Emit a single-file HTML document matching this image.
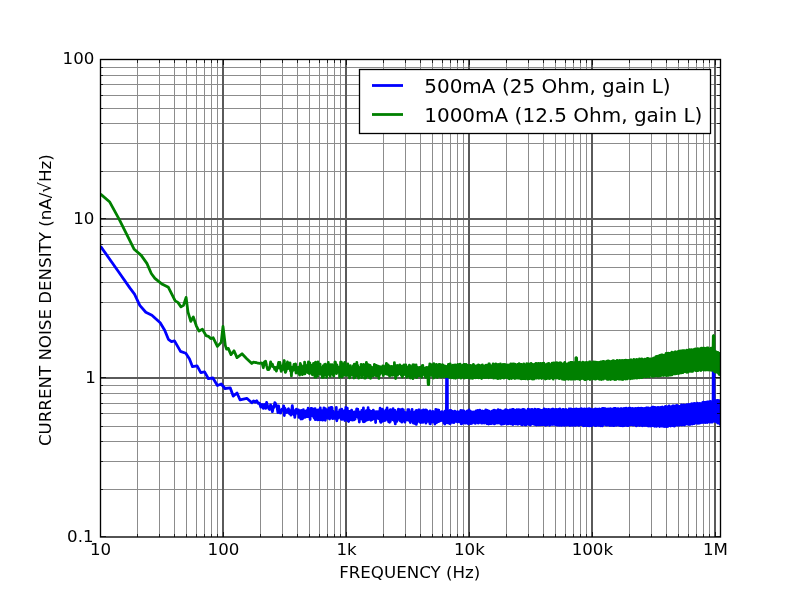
<!DOCTYPE html>
<html lang="en"><head><meta charset="utf-8"><title>Current noise density</title>
<style>html,body{margin:0;padding:0;background:#fff;}body{width:800px;height:597px;overflow:hidden;}svg{display:block;}text{font-family:"DejaVu Sans","Liberation Sans",sans-serif;fill:#000;}</style>
</head><body>
<svg width="800" height="597" viewBox="0 0 800 597">
<rect x="0" y="0" width="800" height="597" fill="#ffffff"/>
<defs><clipPath id="ax"><rect x="100.5" y="59.7" width="620.0" height="477.54"/></clipPath></defs>
<path d="M137.5 59.7V537.24M159.5 59.7V537.24M174.5 59.7V537.24M186.5 59.7V537.24M196.5 59.7V537.24M204.5 59.7V537.24M211.5 59.7V537.24M217.5 59.7V537.24M260.5 59.7V537.24M282.5 59.7V537.24M297.5 59.7V537.24M309.5 59.7V537.24M319.5 59.7V537.24M327.5 59.7V537.24M334.5 59.7V537.24M340.5 59.7V537.24M383.5 59.7V537.24M405.5 59.7V537.24M420.5 59.7V537.24M432.5 59.7V537.24M442.5 59.7V537.24M450.5 59.7V537.24M457.5 59.7V537.24M463.5 59.7V537.24M506.5 59.7V537.24M528.5 59.7V537.24M543.5 59.7V537.24M555.5 59.7V537.24M565.5 59.7V537.24M573.5 59.7V537.24M580.5 59.7V537.24M586.5 59.7V537.24M629.5 59.7V537.24M651.5 59.7V537.24M666.5 59.7V537.24M678.5 59.7V537.24M688.5 59.7V537.24M696.5 59.7V537.24M703.5 59.7V537.24M709.5 59.7V537.24M100.0 489.5H720.0M100.0 461.5H720.0M100.0 441.5H720.0M100.0 426.5H720.0M100.0 413.5H720.0M100.0 403.5H720.0M100.0 393.5H720.0M100.0 385.5H720.0M100.0 330.5H720.0M100.0 302.5H720.0M100.0 282.5H720.0M100.0 267.5H720.0M100.0 254.5H720.0M100.0 244.5H720.0M100.0 234.5H720.0M100.0 226.5H720.0M100.0 171.5H720.0M100.0 143.5H720.0M100.0 123.5H720.0M100.0 108.5H720.0M100.0 95.5H720.0M100.0 84.5H720.0M100.0 75.5H720.0M100.0 67.5H720.0" stroke="#8c8c8c" stroke-width="1" fill="none" shape-rendering="crispEdges"/>
<path d="M223 59.7V537.24M346 59.7V537.24M469 59.7V537.24M592 59.7V537.24M715 59.7V537.24M100.0 378H720.0M100.0 219H720.0" stroke="#5a5a5a" stroke-width="2" fill="none" shape-rendering="crispEdges"/>
<g clip-path="url(#ax)" fill="none" stroke-linejoin="round" stroke-linecap="butt">
<path d="M100.6 246.3L118.0 271.0L130.0 288.1L134.5 294.1L139.8 305.4L145.8 312.2L151.9 315.2L160.2 322.8L164.7 330.3L168.4 339.3L171.5 341.6L174.5 340.9L180.5 351.4L185.8 353.3L189.5 359.1L192.5 366.7L197.1 365.9L200.8 372.7L204.6 371.9L208.4 378.7L212.9 378.0L217.4 385.5L221.2 384.0L225.0 388.5L230.2 387.8L233.2 396.1L237.0 393.0L240.0 399.8L246.8 398.3L251.8 402.8L253.5 400.9L255.1 402.2L256.7 400.7L258.1 403.3L259.5 403.1L260.8 407.1L262.1 404.4L263.3 408.3L264.4 404.5L265.6 408.4L266.6 402.5L267.7 406.3L268.7 408.5L269.6 409.4L270.6 404.9L271.5 406.3L272.4 411.7L273.2 407.2L274.0 407.3L274.8 402.7L275.6 403.7L276.4 405.7L277.1 407.4L277.9 412.5L278.6 405.9L279.3 411.3L279.9 412.8L280.6 413.0L281.2 410.8L281.9 409.2L282.5 409.4L283.1 410.1L283.7 405.8L284.3 415.5L284.8 408.2L285.4 409.4L285.9 410.3L286.5 412.5L287.0 411.7L287.5 411.5L288.0 409.6L288.5 408.8L289.0 412.9L289.5 413.5L290.0 412.1L290.5 411.4L290.9 415.1L291.4 409.9L291.8 410.1L292.3 405.7L292.7 408.4L293.1 412.6L293.6 414.1L294.0 415.1L294.4 412.1L294.8 417.4L295.2 413.5L295.6 410.2L296.0 412.9L296.4 409.1L296.7 411.1L297.1 411.1L297.5 413.3L297.8 412.1L298.2 412.4L298.6 409.9L298.9 417.4L299.3 413.1L299.6 414.1L299.9 417.4L300.3 414.5L300.6 411.9L300.9 419.0L301.3 410.4L301.6 411.4L301.9 413.9L302.2 414.3L302.5 418.8L302.8 412.8L303.1 415.8L303.4 409.7L303.7 417.6L304.0 415.2L304.3 416.4L304.6 411.2L304.9 413.9L305.2 416.4L305.4 417.2L305.7 412.8L306.0 412.8L306.3 416.6L306.5 410.6L306.8 416.4L307.1 414.9L307.3 412.6L307.6 414.3L307.9 416.7L308.1 408.2L308.4 410.3L308.6 416.0L308.9 411.1L309.1 415.4L309.4 413.2L309.6 412.6L309.9 411.4L310.1 419.5L310.3 412.7L310.6 414.3L310.8 413.8L311.0 408.4L311.3 414.8L311.5 413.2L311.7 414.2L311.9 412.0L312.2 408.6L312.4 409.6L312.6 415.7L312.8 410.0L313.0 415.9L313.3 414.2L313.5 412.7L313.7 417.2L313.9 414.4L314.1 418.0L314.3 409.0L314.5 415.9L314.7 410.5L314.9 414.7L315.1 408.6L315.3 419.7L315.5 410.4L315.7 417.3L315.9 412.5L316.1 419.3L316.3 416.9L316.5 412.6L316.7 410.4L316.9 415.5L317.1 412.4L317.3 414.6L317.4 410.1L317.6 410.4L317.8 419.9L318.0 413.8L318.2 413.4L318.4 417.7L318.5 409.8L318.7 414.8L318.9 411.7L319.1 410.7L319.2 410.6L319.4 419.6L319.6 418.6L319.8 413.4L319.9 410.4L320.1 413.3L320.3 407.8L320.4 413.4L320.6 419.8L320.8 410.3L320.9 415.2L321.1 415.6L321.3 412.6L321.4 416.6L321.6 415.9L321.8 413.4L321.9 416.0L322.1 415.0L322.3 411.4L322.4 411.0L322.6 420.1L322.8 410.5L322.9 416.3L323.1 410.9L323.3 415.7L323.4 416.0L323.6 413.9L323.8 414.9L323.9 407.9L324.1 419.6L324.3 412.0L324.4 415.7L324.6 415.3L324.8 408.5L324.9 413.4L325.1 409.1L325.3 420.3L325.4 408.6L325.6 412.7L325.8 416.2L325.9 411.5L326.1 416.4L326.3 411.3L326.4 412.8L326.6 417.8L326.8 410.7L326.9 413.7L327.1 412.6L327.3 416.4L327.4 418.1L327.6 415.1L327.8 409.7L327.9 416.3L328.1 411.8L328.3 413.7L328.4 416.7L328.6 416.4L328.8 415.2L328.9 416.5L329.1 408.0L329.3 413.1L329.4 414.7L329.6 419.0L329.8 412.1L329.9 410.9L330.1 417.5L330.3 410.7L330.4 409.8L330.6 416.7L330.8 417.2L330.9 416.9L331.1 407.5L331.3 415.2L331.4 415.2L331.6 414.4L331.8 417.5L331.9 407.4L332.1 408.0L332.3 415.2L332.4 413.8L332.6 418.7L332.8 414.5L332.9 417.6L333.1 411.1L333.3 411.5L333.4 416.1L333.6 412.3L333.8 416.3L333.9 414.7L334.1 416.1L334.3 413.4L334.4 417.6L334.6 418.3L334.8 415.3L334.9 413.7L335.1 413.4L335.3 418.2L335.4 414.7L335.6 418.5L335.8 414.1L335.9 414.4L336.1 413.9L336.3 407.5L336.4 414.6L336.6 411.2L336.8 420.8L336.9 416.8L337.1 417.2L337.3 413.9L337.4 412.2L337.6 414.6L337.8 415.6L337.9 414.3L338.1 413.7L338.3 416.7L338.4 418.2L338.6 414.7L338.8 416.4L338.9 412.3L339.1 411.8L339.3 414.3L339.4 413.7L339.6 416.5L339.8 409.9L339.9 413.8L340.1 413.3L340.3 414.3L340.4 414.2L340.6 415.9L340.8 414.6L340.9 414.5L341.1 414.4L341.3 419.3L341.4 412.6L341.6 418.0L341.8 409.2L341.9 412.2L342.1 413.8L342.3 419.4L342.4 411.1L342.6 410.8L342.8 418.1L342.9 413.9L343.1 419.0L343.3 412.1L343.4 419.0L343.6 415.8L343.8 411.7L343.9 418.5L344.1 417.5L344.3 416.3L344.4 412.9L344.6 411.1L344.8 410.4L344.9 420.5L345.1 416.7L345.3 419.9L345.4 415.1L345.6 414.5L345.8 407.5L345.9 417.7L346.1 417.4L346.3 414.1L346.4 414.1L346.6 413.4L346.8 416.9L346.9 413.2L347.1 412.3L347.3 408.2L347.4 413.7L347.6 414.3L347.8 420.8L347.9 413.4L348.1 413.2L348.3 414.9L348.4 419.0L348.6 421.5L348.8 411.6L348.9 421.0L349.1 418.1L349.3 412.9L349.4 419.7L349.6 417.4L349.8 416.1L349.9 411.4L350.1 414.7L350.3 419.3L350.4 411.2L350.6 413.0L350.8 417.4L350.9 419.5L351.1 413.5L351.3 416.7L351.4 418.3L351.6 410.2L351.8 412.5L351.9 414.5L352.1 418.6L352.3 420.1L352.4 413.0L352.6 417.9L352.8 418.4L352.9 418.6L353.1 418.7L353.3 418.7L353.4 414.4L353.6 414.0L353.8 413.6L353.9 419.9L354.1 416.0L354.3 411.8L354.4 413.8L354.6 413.1L354.8 417.8L354.9 412.3L355.1 419.1L355.3 412.8L355.4 415.5L355.6 413.8L355.8 411.8L355.9 413.7L356.1 414.0L356.3 412.6L356.4 415.2L356.6 409.2L356.8 416.1L356.9 409.0L357.1 412.0L357.3 416.0L357.4 416.7L357.6 415.4L357.8 409.2L357.9 411.8L358.1 411.1L358.3 415.1L358.4 414.0L358.6 418.7L358.8 414.8L358.9 415.8L359.1 412.4L359.3 422.0L359.4 415.2L359.6 418.8L359.8 412.2L359.9 416.9L360.1 414.6L360.3 414.6L360.4 418.7L360.6 412.4L360.8 418.3L360.9 417.9L361.1 415.9L361.3 412.9L361.4 418.0L361.6 419.0L361.8 410.3L361.9 417.3L362.1 415.6L362.3 413.9L362.4 415.5L362.6 415.7L362.8 416.9L362.9 415.6L363.1 415.8L363.3 421.6L363.4 407.9L363.6 416.5L363.8 415.9L363.9 421.8L364.1 415.3L364.3 415.0L364.4 421.6L364.6 415.3L364.8 414.0L364.9 416.2L365.1 416.3L365.3 416.3L365.4 420.9L365.6 414.4L365.8 417.7L365.9 415.5L366.1 418.8L366.3 410.6L366.4 415.3L366.6 414.2L366.8 413.1L366.9 416.6L367.1 411.7L367.3 417.6L367.4 412.1L367.6 419.9L367.8 414.6L367.9 415.1L368.1 407.7L368.3 413.5L368.4 412.0L368.6 417.6L368.8 418.6L368.9 419.4L369.1 410.1L369.3 417.5L369.4 411.9L369.6 419.2L369.8 416.8L369.9 416.8L370.1 413.7L370.3 419.5L370.4 411.2L370.6 419.4L370.8 413.1L370.9 420.3L371.1 412.3L371.3 418.1L371.4 415.8L371.6 411.7L371.8 416.8L371.9 415.7L372.1 417.2L372.3 419.6L372.4 413.3L372.6 417.7L372.8 412.8L372.9 418.1L373.1 413.8L373.3 410.2L373.4 411.3L373.6 418.8L373.8 413.7L373.9 417.1L374.1 412.5L374.3 412.9L374.4 411.9L374.6 415.1L374.8 417.5L374.9 415.2L375.1 412.0L375.3 414.7L375.4 411.9L375.6 422.5L375.8 413.7L375.9 416.2L376.1 413.8L376.3 418.4L376.4 411.6L376.6 417.9L376.8 412.6L376.9 413.4L377.1 416.4L377.3 415.3L377.4 411.8L377.6 415.8L377.8 413.2L377.9 411.6L378.1 417.6L378.3 415.5L378.4 412.4L378.6 418.6L378.8 412.4L378.9 415.8L379.1 413.5L379.3 417.0L379.4 413.9L379.6 414.2L379.8 410.2L379.9 415.1L380.1 408.2L380.3 421.5L380.4 418.7L380.6 417.1L380.8 411.2L380.9 422.4L381.1 414.0L381.3 415.8L381.4 415.7L381.6 421.7L381.8 415.7L381.9 418.0L382.1 416.3L382.3 417.6L382.4 409.1L382.6 414.7L382.8 411.2L382.9 417.6L383.1 410.4L383.3 418.9L383.4 415.5L383.6 420.9L383.8 413.7L383.9 412.9L384.1 419.3L384.3 417.6L384.4 413.9L384.6 416.3L384.8 416.3L384.9 416.6L385.1 414.8L385.3 420.3L385.4 419.4L385.6 419.5L385.8 411.0L385.9 414.8L386.1 409.8L386.3 419.2L386.4 410.2L386.6 416.4L386.8 414.4L386.9 417.1L387.1 407.9L387.3 418.4L387.4 414.5L387.6 417.4L387.8 415.0L387.9 414.0L388.1 416.6L388.3 420.4L388.4 415.0L388.6 421.8L388.8 415.2L388.9 416.4L389.1 413.5L389.3 415.8L389.4 414.4L389.6 422.3L389.8 410.5L389.9 420.2L390.1 412.7L390.3 421.5L390.4 409.6L390.6 418.3L390.8 412.1L390.9 414.3L391.1 412.0L391.3 417.8L391.4 411.9L391.6 419.0L391.8 414.9L391.9 414.4L392.1 409.9L392.3 415.5L392.4 413.7L392.6 417.2L392.8 414.8L392.9 419.8L393.1 408.7L393.3 416.7L393.4 412.6L393.6 417.0L393.8 413.2L393.9 417.6L394.1 415.8L394.3 416.0L394.4 415.4L394.6 421.5L394.8 413.6L394.9 416.5L395.1 410.3L395.3 423.9L395.4 413.8L395.6 415.9L395.8 415.5L395.9 415.4L396.1 414.5L396.3 415.4L396.4 415.2L396.6 416.9L396.8 413.1L396.9 421.4L397.1 411.9L397.3 418.0L397.4 414.0L397.6 418.6L397.8 414.3L397.9 417.6L398.1 416.9L398.3 417.2L398.4 409.2L398.6 416.0L398.8 413.5L398.9 419.4L399.1 410.9L399.3 416.8L399.4 414.9L399.6 417.1L399.8 414.1L399.9 418.3L400.1 409.6L400.3 421.1L400.4 410.8L400.6 414.6L400.8 417.3L400.9 420.0L401.1 410.6L401.3 418.6L401.4 413.0L401.6 413.9L401.8 414.1L401.9 422.2L402.1 411.3L402.3 421.3L402.4 409.2L402.6 417.3L402.8 416.1L402.9 416.7L403.1 413.4L403.3 419.9L403.4 409.9L403.6 420.2L403.8 412.7L403.9 420.5L404.1 413.8L404.3 419.2L404.4 417.0L404.6 420.7L404.8 415.1L404.9 422.2L405.1 412.7L405.3 417.9L405.4 415.9L405.6 417.6L405.8 412.7L405.9 420.2L406.1 416.0L406.3 416.1L406.4 413.4L406.6 419.5L406.8 414.1L406.9 417.5L407.1 412.9L407.3 415.0L407.4 414.6L407.6 418.9L407.8 409.7L407.9 420.0L408.1 410.8L408.3 419.0L408.4 415.0L408.6 417.8L408.8 409.6L408.9 420.4L409.1 414.6L409.3 415.5L409.4 413.5L409.6 420.2L409.8 413.9L409.9 417.9L410.1 412.6L410.3 422.5L410.4 415.1L410.6 415.9L410.8 414.4L410.9 418.9L411.1 412.5L411.3 417.6L411.4 411.7L411.6 420.8L411.8 413.5L411.9 417.7L412.1 409.5L412.3 418.4L412.4 411.5L412.6 418.0L412.8 415.1L412.9 421.0L413.1 414.6L413.3 423.0L413.4 413.5L413.6 417.7L413.8 415.0L413.9 419.1L414.1 412.6L414.3 423.0L414.4 415.6L414.6 419.0L414.8 415.1L414.9 423.6L415.1 415.6L415.3 416.6L415.4 416.4L415.6 419.1L415.8 410.8L415.9 422.2L416.1 412.2L416.3 424.4L416.4 410.3L416.6 418.8L416.8 415.2L416.9 422.8L417.1 412.1L417.3 416.4L417.4 412.6L417.6 419.1L417.8 414.1L417.9 418.8L418.1 415.3L418.3 415.8L418.4 414.6L418.6 419.0L418.8 410.0L418.9 417.5L419.1 409.8L419.3 418.2L419.4 414.1L419.6 421.6L419.8 411.5L419.9 419.4L420.1 416.3L420.3 419.6L420.4 414.0L420.6 422.6L420.8 415.0L420.9 419.1L421.1 410.8L421.3 416.6L421.4 413.8L421.6 421.6L421.8 411.9L421.9 416.8L422.1 416.4L422.3 417.1L422.4 410.5L422.6 418.6L422.8 412.0L422.9 422.4L423.1 414.1L423.3 418.7L423.4 409.9L423.6 420.4L423.8 414.5L423.9 421.0L424.1 414.2L424.3 418.8L424.4 416.9L424.6 421.3L424.8 410.6L424.9 420.6L425.1 410.2L425.3 416.8L425.4 414.6L425.6 419.8L425.8 410.0L425.9 423.2L426.1 413.8L426.3 418.7L426.4 413.6L426.6 419.9L426.8 410.4L426.9 418.3L427.1 411.6L427.3 421.2L427.4 411.5L427.6 421.4L427.8 412.7L427.9 419.2L428.1 414.1L428.3 419.4L428.4 411.7L428.6 417.6L428.8 414.7L428.9 421.3L429.1 414.4L429.3 417.5L429.4 416.1L429.6 420.3L429.8 414.0L429.9 423.7L430.1 410.9L430.3 423.9L430.4 414.3L430.6 417.8L430.8 415.4L430.9 420.1L431.1 412.2L431.3 419.8L431.4 414.4L431.6 419.7L431.8 412.6L431.9 420.9L432.1 411.9L432.3 422.0L432.4 412.4L432.6 418.2L432.8 411.3L432.9 419.2L433.1 412.8L433.3 419.6L433.4 412.0L433.6 418.7L433.8 414.3L433.9 419.0L434.1 414.8L434.3 422.4L434.4 412.8L434.6 419.4L434.8 413.6L434.9 424.0L435.1 413.1L435.3 419.0L435.4 411.5L435.6 420.9L435.8 409.4L435.9 418.2L436.1 413.2L436.3 421.9L436.4 411.3L436.6 422.7L436.8 415.7L436.9 419.3L437.1 415.0L437.3 418.8L437.4 409.8L437.6 420.6L437.8 410.4L437.9 419.7L438.1 411.1L438.3 420.1L438.4 414.1L438.6 421.7L438.8 410.2L438.9 418.4L439.1 412.6L439.3 420.9L439.4 414.3L439.6 419.8L439.8 414.7L439.9 419.0L440.1 414.1L440.3 420.8L440.4 412.3L440.6 419.0L440.8 415.9L440.9 419.6L441.1 412.2L441.3 419.0L441.4 413.8L441.6 419.1L441.8 411.6L441.9 420.6L442.1 415.2L442.3 418.5L442.4 413.4L442.6 420.6L442.8 412.4L442.9 418.4L443.1 414.5L443.3 421.3L443.4 413.3L443.6 419.5L443.8 413.8L443.9 423.2L444.1 413.7L444.3 420.7L444.4 413.5L444.6 420.1L444.8 411.1L444.9 424.0L445.1 413.5L445.3 419.2L445.4 411.9L445.6 419.2L445.8 415.7L445.9 422.7L446.1 413.2L446.3 422.1L446.4 413.3L446.6 372.0L446.8 374.0L446.9 372.0L447.1 374.0L447.3 372.0L447.4 412.3L447.6 422.8L447.8 414.8L447.9 421.1L448.1 413.4L448.3 420.6L448.4 414.4L448.6 419.7L448.8 412.8L448.9 422.9L449.1 414.6L449.3 420.6L449.4 411.4L449.6 423.5L449.8 414.1L449.9 419.0L450.1 410.3L450.3 423.6L450.4 412.9L450.6 418.5L450.8 410.5L450.9 420.2L451.1 410.7L451.3 421.2L451.4 411.3L451.6 419.2L451.8 411.5L451.9 419.5L452.1 413.2L452.3 422.3L452.4 411.3L452.6 419.4L452.8 414.0L452.9 420.3L453.1 412.7L453.3 420.3L453.4 414.4L453.6 419.7L453.8 411.8L453.9 422.7L454.1 415.0L454.3 421.0L454.4 411.7L454.6 418.5L454.8 411.2L454.9 419.1L455.1 412.4L455.3 421.0L455.4 412.3L455.6 420.0L455.8 413.1L455.9 421.1L456.1 413.0L456.3 421.4L456.4 413.0L456.6 420.6L456.8 415.0L456.9 421.3L457.1 412.8L457.3 419.8L457.4 411.6L457.6 422.0L457.8 412.9L457.9 419.6L458.1 412.8L458.3 419.2L458.4 414.3L458.6 420.6L458.8 414.5L458.9 420.6L459.1 412.7L459.3 418.8L459.4 412.2L459.6 419.1L459.8 411.7L459.9 422.1L460.1 412.7L460.3 418.9L460.4 412.7L460.6 420.5L460.8 410.3L460.9 419.5L461.1 411.1L461.3 423.9L461.4 411.7L461.6 422.3L461.8 413.8L461.9 423.7L462.1 412.7L462.3 423.4L462.4 410.6L462.6 419.7L462.8 411.5L462.9 423.1L463.1 414.5L463.3 420.4L463.4 411.6L463.6 419.7L463.8 410.8L463.9 420.2L464.1 411.3L464.3 419.6L464.4 412.6L464.6 423.0L464.8 413.7L464.9 420.2L465.1 412.6L465.3 420.4L465.4 414.6L465.6 419.9L465.8 413.9L465.9 423.2L466.1 411.9L466.3 422.9L466.4 413.8L466.6 422.2L466.8 414.1L466.9 421.2L467.1 412.1L467.3 420.6L467.4 410.9L467.6 421.3L467.8 412.3L467.9 422.8L468.1 414.1L468.3 423.8L468.4 412.1L468.6 420.8L468.8 411.4L468.9 420.3L469.1 409.9L469.3 421.4L469.4 413.0L469.6 422.2L469.8 412.7L469.9 420.0L470.1 411.6L470.3 419.3L470.4 411.2L470.6 420.3L470.8 412.0L470.9 423.7L471.1 412.2L471.3 421.8L471.4 413.1L471.6 419.1L471.8 414.4L471.9 420.0L472.1 412.1L472.3 421.0L472.4 412.4L472.6 423.0L472.8 413.8L472.9 420.3L473.1 411.9L473.3 419.3L473.4 414.6L473.6 420.8L473.8 413.9L473.9 420.8L474.1 413.4L474.3 421.6L474.4 412.1L474.6 420.3L474.8 411.9L474.9 421.3L475.1 413.7L475.3 423.4L475.4 413.2L475.6 420.1L475.8 413.9L475.9 421.9L476.1 410.8L476.3 422.5L476.4 412.7L476.6 420.6L476.8 414.3L476.9 421.9L477.1 412.1L477.3 420.9L477.4 411.8L477.6 421.3L477.8 410.3L477.9 422.3L478.1 413.1L478.3 423.2L478.4 414.0L478.6 421.6L478.8 412.6L478.9 420.6L479.1 413.9L479.3 422.6L479.4 414.2L479.6 421.7L479.8 410.2L479.9 420.3L480.1 413.2L480.3 421.9L480.4 412.2L480.6 422.1L480.8 411.0L480.9 420.5L481.1 412.8L481.3 420.9L481.4 413.9L481.6 423.2L481.8 411.1L481.9 422.4L482.1 414.1L482.3 423.0L482.4 411.2L482.6 421.5L482.8 411.2L482.9 421.5L483.1 413.0L483.3 420.3L483.4 413.0L483.6 420.0L483.8 412.6L483.9 422.6L484.1 411.4L484.3 423.0L484.4 411.3L484.6 421.0L484.8 411.9L484.9 421.5L485.1 411.0L485.3 421.8L485.4 412.8L485.6 422.2L485.8 409.9L485.9 420.8L486.1 410.5L486.3 419.9L486.4 412.8L486.6 420.9L486.8 411.1L486.9 423.7L487.1 411.1L487.3 421.3L487.4 410.5L487.6 421.3L487.8 412.8L487.9 423.5L488.1 411.5L488.3 422.5L488.4 411.4L488.6 424.0L488.8 412.0L488.9 423.2L489.1 411.2L489.3 423.3L489.4 412.1L489.6 422.7L489.8 411.7L489.9 421.3L490.1 412.8L490.3 422.3L490.4 413.3L490.6 423.6L490.8 413.0L490.9 420.3L491.1 413.2L491.3 423.7L491.4 412.3L491.6 420.8L491.8 413.5L491.9 420.4L492.1 411.2L492.3 422.5L492.4 411.1L492.6 422.8L492.8 413.3L492.9 422.3L493.1 412.2L493.3 423.2L493.4 410.6L493.6 423.6L493.8 413.2L493.9 423.5L494.1 410.1L494.3 423.9L494.4 413.0L494.6 421.2L494.8 413.0L494.9 420.5L495.1 410.4L495.3 423.2L495.4 411.3L495.6 423.3L495.8 411.3L495.9 421.5L496.1 413.0L496.3 420.9L496.4 410.8L496.6 421.3L496.8 412.2L496.9 422.0L497.1 413.3L497.3 421.5L497.4 412.3L497.6 423.0L497.8 412.0L497.9 421.7L498.1 409.7L498.3 422.3L498.4 410.3L498.6 422.7L498.8 413.1L498.9 422.0L499.1 411.7L499.3 423.2L499.4 412.0L499.6 423.0L499.8 411.4L499.9 421.5L500.1 410.2L500.3 421.1L500.4 410.4L500.6 421.4L500.8 413.2L500.9 421.5L501.1 410.6L501.3 424.3L501.4 413.1L501.6 422.4L501.8 411.5L501.9 423.4L502.1 412.4L502.3 422.4L502.4 411.9L502.6 423.6L502.8 412.1L502.9 424.1L503.1 412.0L503.3 421.6L503.4 410.8L503.6 422.5L503.8 412.6L503.9 422.9L504.1 412.7L504.3 423.5L504.4 410.7L504.6 423.5L504.8 411.0L504.9 422.1L505.1 411.6L505.3 422.3L505.4 410.0L505.6 421.3L505.8 410.0L505.9 421.1L506.1 412.1L506.3 421.9L506.4 409.9L506.6 422.6L506.8 411.6L506.9 424.0L507.1 412.0L507.3 422.5L507.4 411.1L507.6 423.5L507.8 410.4L507.9 423.1L508.1 411.6L508.3 422.2L508.4 412.2L508.6 423.8L508.8 410.7L508.9 423.5L509.1 412.1L509.3 422.6L509.4 410.3L509.6 423.0L509.8 412.2L509.9 422.7L510.1 409.9L510.3 422.1L510.4 412.0L510.6 422.3L510.8 410.5L510.9 423.9L511.1 412.1L511.3 421.9L511.4 411.8L511.6 422.4L511.8 411.0L511.9 421.9L512.1 411.5L512.3 422.0L512.4 409.4L512.6 423.6L512.8 412.2L512.9 424.5L513.1 412.2L513.3 422.6L513.4 409.3L513.6 423.8L513.8 410.3L513.9 422.8L514.1 411.8L514.3 423.4L514.4 412.1L514.6 422.2L514.8 411.3L514.9 421.7L515.1 411.2L515.3 423.9L515.4 410.4L515.6 423.0L515.8 410.5L515.9 422.9L516.1 411.9L516.3 423.3L516.4 411.1L516.6 423.8L516.8 409.6L516.9 422.9L517.1 410.7L517.3 423.8L517.4 411.1L517.6 422.4L517.8 410.2L517.9 424.3L518.1 410.0L518.3 423.7L518.4 409.7L518.6 423.6L518.8 410.4L518.9 423.0L519.1 411.3L519.3 423.5L519.4 411.9L519.6 423.0L519.8 410.0L519.9 423.8L520.1 410.4L520.3 422.5L520.4 411.0L520.6 423.1L520.8 410.4L520.9 423.0L521.1 410.3L521.3 424.6L521.4 411.6L521.6 423.7L521.8 409.9L521.9 423.0L522.1 410.8L522.3 424.9L522.4 412.0L522.6 423.4L522.8 411.6L522.9 424.1L523.1 409.3L523.3 423.4L523.4 411.8L523.6 423.5L523.8 410.6L523.9 423.9L524.1 410.6L524.3 423.7L524.4 409.7L524.6 423.4L524.8 410.9L524.9 424.8L525.1 411.4L525.3 423.9L525.4 410.9L525.6 424.1L525.8 411.7L525.9 425.0L526.1 411.0L526.3 422.2L526.4 411.2L526.6 423.1L526.8 412.0L526.9 423.2L527.1 410.8L527.3 424.0L527.4 411.0L527.6 422.8L527.8 411.3L527.9 424.1L528.1 409.2L528.3 423.5L528.4 411.3L528.6 424.3L528.8 410.9L528.9 422.7L529.1 411.6L529.3 424.2L529.4 409.7L529.6 423.8L529.8 410.7L529.9 423.6L530.1 411.3L530.3 425.0L530.4 411.0L530.6 423.8L530.8 409.6L530.9 424.4L531.1 410.7L531.3 423.0L531.4 410.4L531.6 422.5L531.8 409.6L531.9 423.1L532.1 409.5L532.3 422.9L532.4 410.9L532.6 422.9L532.8 410.7L532.9 422.7L533.1 411.9L533.3 424.1L533.4 411.1L533.6 422.9L533.8 411.0L533.9 423.5L534.1 410.7L534.3 423.9L534.4 410.1L534.6 423.2L534.8 409.2L534.9 424.6L535.1 411.7L535.3 424.5L535.4 409.3L535.6 424.4L535.8 411.4L535.9 424.5L536.1 410.2L536.3 422.3L536.4 411.8L536.6 425.0L536.8 410.1L536.9 423.0L537.1 411.5L537.3 422.7L537.4 411.2L537.6 424.4L537.8 410.9L537.9 422.7L538.1 409.3L538.3 424.4L538.4 411.3L538.6 424.8L538.8 410.2L538.9 424.4L539.1 410.0L539.3 424.8L539.4 409.7L539.6 424.6L539.8 411.2L539.9 424.2L540.1 410.4L540.3 424.3L540.4 410.6L540.6 424.8L540.8 410.3L540.9 423.1L541.1 411.1L541.3 422.8L541.4 410.5L541.6 422.5L541.8 410.5L541.9 422.8L542.1 410.5L542.3 423.7L542.4 410.3L542.6 424.7L542.8 411.7L542.9 424.7L543.1 410.5L543.3 423.9L543.4 410.0L543.6 424.7L543.8 410.7L543.9 423.5L544.1 409.0L544.3 422.6L544.4 410.1L544.6 424.1L544.8 411.6L544.9 424.0L545.1 409.9L545.3 425.0L545.4 410.8L545.6 425.3L545.8 410.4L545.9 423.7L546.1 409.3L546.3 422.6L546.4 409.8L546.6 424.1L546.8 410.8L546.9 424.8L547.1 410.7L547.3 423.7L547.4 410.3L547.6 424.5L547.8 411.1L547.9 423.6L548.1 410.6L548.3 423.9L548.4 409.5L548.6 423.3L548.8 409.5L548.9 423.6L549.1 410.4L549.3 423.3L549.4 410.4L549.6 425.3L549.8 410.0L549.9 424.6L550.1 410.8L550.3 423.4L550.4 410.8L550.6 424.0L550.8 410.0L550.9 424.6L551.1 411.5L551.3 424.4L551.4 409.3L551.6 424.0L551.8 411.5L551.9 423.4L552.1 411.6L552.3 423.1L552.4 409.1L552.6 424.1L552.8 409.9L552.9 424.6L553.1 409.2L553.3 424.2L553.4 410.0L553.6 424.2L553.8 409.8L553.9 424.1L554.1 409.9L554.3 423.2L554.4 409.9L554.6 423.8L554.8 409.6L554.9 422.9L555.1 411.1L555.3 422.8L555.4 409.6L555.6 425.1L555.8 409.9L555.9 423.6L556.1 409.4L556.3 424.7L556.4 410.2L556.6 423.4L556.8 410.8L556.9 423.8L557.1 410.7L557.3 423.8L557.4 409.9L557.6 425.2L557.8 411.4L557.9 424.1L558.1 411.4L558.3 423.1L558.4 409.5L558.6 424.2L558.8 409.1L558.9 423.9L559.1 411.5L559.3 423.7L559.4 410.1L559.6 425.3L559.8 408.8L559.9 423.9L560.1 410.5L560.3 423.1L560.4 409.9L560.6 423.3L560.8 411.1L560.9 422.8L561.1 411.5L561.3 424.5L561.4 411.1L561.6 425.4L561.8 411.2L561.9 425.0L562.1 411.1L562.3 422.9L562.4 409.7L562.6 423.5L562.8 409.7L562.9 423.3L563.1 411.3L563.3 424.7L563.4 409.7L563.6 425.0L563.8 409.7L563.9 423.1L564.1 409.9L564.3 424.6L564.4 410.3L564.6 425.3L564.8 410.8L564.9 425.4L565.1 409.7L565.3 422.9L565.4 411.4L565.6 424.5L565.8 409.4L565.9 423.1L566.1 410.6L566.3 424.7L566.4 411.0L566.6 425.1L566.8 410.2L566.9 423.1L567.1 410.5L567.3 424.3L567.4 410.3L567.6 424.6L567.8 411.0L567.9 424.9L568.1 410.5L568.3 424.5L568.4 409.9L568.6 424.0L568.8 410.4L568.9 424.9L569.1 408.9L569.3 424.9L569.4 410.0L569.6 423.7L569.8 411.2L569.9 425.5L570.1 409.7L570.3 425.0L570.4 410.5L570.6 424.4L570.8 408.8L570.9 425.0L571.1 409.9L571.3 423.8L571.4 410.3L571.6 425.2L571.8 410.4L571.9 424.6L572.1 409.9L572.3 425.3L572.4 409.4L572.6 423.7L572.8 411.3L572.9 423.7L573.1 410.3L573.3 424.4L573.4 409.4L573.6 425.3L573.8 411.2L573.9 425.1L574.1 409.4L574.3 425.2L574.4 410.0L574.6 423.8L574.8 409.2L574.9 425.0L575.1 409.7L575.3 425.4L575.4 410.5L575.6 423.3L575.8 410.0L575.9 425.0L576.1 410.8L576.3 424.9L576.4 408.9L576.6 423.7L576.8 409.9L576.9 424.7L577.1 410.2L577.3 423.7L577.4 410.6L577.6 424.9L577.8 409.4L577.9 424.2L578.1 411.0L578.3 425.1L578.4 409.4L578.6 423.7L578.8 409.9L578.9 425.4L579.1 409.1L579.3 424.4L579.4 410.1L579.6 424.5L579.8 410.8L579.9 423.7L580.1 410.8L580.3 424.8L580.4 410.4L580.6 424.5L580.8 410.3L580.9 424.4L581.1 410.8L581.3 423.3L581.4 408.6L581.6 424.1L581.8 410.9L581.9 424.7L582.1 409.4L582.3 423.6L582.4 409.8L582.6 424.1L582.8 410.0L582.9 423.3L583.1 411.1L583.3 425.8L583.4 409.1L583.6 424.4L583.8 409.9L583.9 423.9L584.1 409.4L584.3 424.3L584.4 408.8L584.6 425.0L584.8 409.3L584.9 425.7L585.1 410.6L585.3 423.4L585.4 410.7L585.6 423.8L585.8 410.9L585.9 423.4L586.1 409.9L586.3 425.4L586.4 410.1L586.6 425.6L586.8 409.0L586.9 423.5L587.1 409.8L587.3 424.2L587.4 410.8L587.6 425.7L587.8 410.5L587.9 424.6L588.1 409.7L588.3 425.7L588.4 409.6L588.6 424.3L588.8 410.1L588.9 423.8L589.1 408.7L589.3 425.9L589.4 410.6L589.6 423.5L589.8 410.5L589.9 424.2L590.1 409.0L590.3 425.5L590.4 409.2L590.6 423.5L590.8 409.3L590.9 425.0L591.1 409.7L591.3 425.8L591.4 410.9L591.6 423.8L591.8 409.4L591.9 425.7L592.1 409.6L592.3 424.1L592.4 409.8L592.6 425.1L592.8 410.8L592.9 424.2L593.1 410.4L593.3 423.7L593.4 410.0L593.6 423.8L593.8 410.5L593.9 423.8L594.1 409.5L594.3 423.5L594.4 409.4L594.6 423.9L594.8 410.9L594.9 425.6L595.1 410.5L595.3 425.6L595.4 409.0L595.6 425.5L595.8 410.6L595.9 424.4L596.1 410.7L596.3 425.6L596.4 409.1L596.6 424.8L596.8 410.0L596.9 424.2L597.1 409.1L597.3 424.5L597.4 409.6L597.6 423.8L597.8 410.4L597.9 423.6L598.1 409.4L598.3 424.7L598.4 410.6L598.6 425.4L598.8 410.3L598.9 424.4L599.1 410.5L599.3 424.1L599.4 409.0L599.6 424.2L599.8 410.5L599.9 424.5L600.1 410.2L600.3 425.6L600.4 410.6L600.6 425.8L600.8 410.7L600.9 425.5L601.1 409.4L601.3 424.0L601.4 409.8L601.6 424.1L601.8 410.3L601.9 424.0L602.1 410.0L602.3 425.9L602.4 408.4L602.6 425.6L602.8 410.6L602.9 424.2L603.1 408.8L603.3 423.7L603.4 409.3L603.6 424.2L603.8 408.5L603.9 423.6L604.1 409.0L604.3 424.3L604.4 410.5L604.6 423.5L604.8 409.0L604.9 424.6L605.1 410.4L605.3 424.5L605.4 408.7L605.6 424.0L605.8 409.6L605.9 423.9L606.1 410.3L606.3 425.2L606.4 409.2L606.6 424.0L606.8 410.6L606.9 423.8L607.1 409.5L607.3 424.6L607.4 410.1L607.6 424.0L607.8 409.4L607.9 425.0L608.1 409.0L608.3 424.8L608.4 410.3L608.6 423.7L608.8 409.2L608.9 424.4L609.1 409.2L609.3 423.7L609.4 409.0L609.6 424.3L609.8 408.9L609.9 425.5L610.1 409.7L610.3 423.6L610.4 408.6L610.6 424.6L610.8 408.8L610.9 424.2L611.1 410.2L611.3 425.4L611.4 409.9L611.6 424.0L611.8 409.9L611.9 424.8L612.1 410.6L612.3 424.7L612.4 409.7L612.6 424.7L612.8 410.3L612.9 425.1L613.1 408.9L613.3 425.5L613.4 409.9L613.6 425.1L613.8 409.8L613.9 425.2L614.1 410.4L614.3 425.5L614.4 408.4L614.6 424.6L614.8 409.5L614.9 424.7L615.1 409.5L615.3 423.7L615.4 408.4L615.6 424.1L615.8 410.1L615.9 423.9L616.1 410.0L616.3 425.3L616.4 410.5L616.6 423.8L616.8 409.1L616.9 424.1L617.1 410.5L617.3 424.8L617.4 409.4L617.6 424.7L617.8 409.1L617.9 423.9L618.1 408.7L618.3 425.1L618.4 410.4L618.6 423.9L618.8 409.5L618.9 424.7L619.1 409.9L619.3 423.9L619.4 409.7L619.6 424.0L619.8 409.3L619.9 425.5L620.1 410.1L620.3 424.8L620.4 408.9L620.6 424.0L620.8 408.7L620.9 425.7L621.1 409.7L621.3 424.5L621.4 408.7L621.6 424.7L621.8 409.6L621.9 425.7L622.1 408.8L622.3 424.4L622.4 409.9L622.6 424.4L622.8 409.5L622.9 425.9L623.1 408.8L623.3 425.6L623.4 408.7L623.6 425.4L623.8 410.3L623.9 424.7L624.1 408.3L624.3 425.7L624.4 409.9L624.6 424.5L624.8 409.1L624.9 424.4L625.1 409.3L625.3 423.8L625.4 409.5L625.6 424.7L625.8 410.3L625.9 424.0L626.1 408.2L626.3 425.3L626.4 408.3L626.6 424.9L626.8 408.7L626.9 425.6L627.1 408.5L627.3 423.8L627.4 409.1L627.6 424.3L627.8 409.0L627.9 424.3L628.1 409.2L628.3 425.7L628.4 409.1L628.6 424.2L628.8 409.3L628.9 424.6L629.1 408.2L629.3 424.3L629.4 409.7L629.6 425.0L629.8 410.0L629.9 424.9L630.1 408.2L630.3 424.7L630.4 409.7L630.6 424.6L630.8 409.2L630.9 424.1L631.1 410.0L631.3 424.0L631.4 409.6L631.6 424.5L631.8 409.6L631.9 424.2L632.1 410.0L632.3 424.8L632.4 408.5L632.6 424.9L632.8 409.1L632.9 425.0L633.1 409.8L633.3 425.1L633.4 409.3L633.6 424.8L633.8 409.0L633.9 424.7L634.1 409.6L634.3 424.3L634.4 409.7L634.6 424.7L634.8 409.4L634.9 424.9L635.1 410.1L635.3 424.5L635.4 408.4L635.6 424.3L635.8 409.1L635.9 424.7L636.1 409.6L636.3 425.9L636.4 409.5L636.6 425.3L636.8 409.8L636.9 423.9L637.1 408.4L637.3 424.6L637.4 410.0L637.6 424.5L637.8 409.3L637.9 425.2L638.1 409.9L638.3 424.2L638.4 408.1L638.6 425.2L638.8 409.8L638.9 424.4L639.1 409.4L639.3 425.1L639.4 408.9L639.6 425.5L639.8 408.5L639.9 424.8L640.1 408.6L640.3 425.2L640.4 408.6L640.6 424.7L640.8 408.5L640.9 425.2L641.1 408.2L641.3 424.1L641.4 408.3L641.6 423.8L641.8 408.6L641.9 424.9L642.1 409.1L642.3 425.8L642.4 408.9L642.6 424.6L642.8 408.5L642.9 425.6L643.1 408.9L643.3 424.5L643.4 409.1L643.6 424.7L643.8 408.6L643.9 424.4L644.1 409.2L644.3 424.9L644.4 409.2L644.6 424.4L644.8 408.5L644.9 425.5L645.1 409.0L645.3 424.7L645.4 409.6L645.6 424.4L645.8 409.6L645.9 424.9L646.1 408.8L646.3 424.1L646.4 408.0L646.6 424.5L646.8 408.2L646.9 425.5L647.1 407.8L647.3 424.3L647.4 409.0L647.6 425.8L647.8 409.7L647.9 424.0L648.1 408.7L648.3 424.9L648.4 407.8L648.6 425.5L648.8 408.7L648.9 426.1L649.1 408.7L649.3 425.0L649.4 408.3L649.6 424.7L649.8 408.9L649.9 425.1L650.1 408.9L650.3 426.0L650.4 408.3L650.6 425.0L650.8 409.3L650.9 424.8L651.1 408.7L651.3 425.1L651.4 408.4L651.6 425.8L651.8 407.4L651.9 425.0L652.1 408.6L652.3 425.3L652.4 407.2L652.6 424.8L652.8 408.4L652.9 425.7L653.1 409.0L653.3 424.7L653.4 407.2L653.6 425.8L653.8 408.3L653.9 424.4L654.1 407.4L654.3 425.5L654.4 407.6L654.6 426.3L654.8 407.4L654.9 425.0L655.1 408.9L655.3 424.8L655.4 408.2L655.6 425.2L655.8 408.8L655.9 424.6L656.1 407.9L656.3 425.4L656.4 408.4L656.6 426.4L656.8 407.8L656.9 424.3L657.1 408.2L657.3 425.8L657.4 408.4L657.6 425.6L657.8 409.0L657.9 424.9L658.1 407.3L658.3 425.4L658.4 407.6L658.6 424.7L658.8 408.0L658.9 425.4L659.1 408.4L659.3 425.6L659.4 407.8L659.6 426.6L659.8 407.7L659.9 425.2L660.1 408.6L660.3 424.7L660.4 407.3L660.6 424.6L660.8 408.6L660.9 424.7L661.1 407.7L661.3 426.1L661.4 407.5L661.6 426.0L661.8 408.6L661.9 424.4L662.1 407.1L662.3 425.1L662.4 407.2L662.6 425.2L662.8 408.3L662.9 425.0L663.1 408.4L663.3 426.4L663.4 407.4L663.6 425.2L663.8 407.7L663.9 425.3L664.1 408.4L664.3 426.4L664.4 407.3L664.6 426.6L664.8 407.6L664.9 425.8L665.1 407.9L665.3 424.6L665.4 406.4L665.6 426.3L665.8 407.8L665.9 426.5L666.1 406.7L666.3 425.2L666.4 407.1L666.6 426.7L666.8 407.3L666.9 426.7L667.1 407.8L667.3 425.4L667.4 406.8L667.6 425.0L667.8 407.6L667.9 426.4L668.1 407.2L668.3 426.1L668.4 407.7L668.6 424.8L668.8 407.4L668.9 424.8L669.1 405.9L669.3 425.0L669.4 407.0L669.6 424.6L669.8 407.0L669.9 425.1L670.1 407.2L670.3 424.5L670.4 407.7L670.6 426.0L670.8 407.2L670.9 424.8L671.1 407.5L671.3 424.8L671.4 407.4L671.6 424.3L671.8 406.5L671.9 424.9L672.1 407.5L672.3 425.6L672.4 407.6L672.6 424.7L672.8 406.0L672.9 424.4L673.1 406.8L673.3 425.8L673.4 406.0L673.6 424.4L673.8 406.9L673.9 425.4L674.1 406.9L674.3 426.1L674.4 407.1L674.6 426.0L674.8 406.6L674.9 424.4L675.1 406.6L675.3 424.2L675.4 406.1L675.6 424.4L675.8 405.6L675.9 425.0L676.1 406.7L676.3 424.3L676.4 406.2L676.6 424.2L676.8 405.5L676.9 424.0L677.1 406.3L677.3 424.8L677.4 406.7L677.6 425.2L677.8 406.5L677.9 425.0L678.1 406.1L678.3 424.3L678.4 406.4L678.6 423.8L678.8 406.8L678.9 425.3L679.1 406.5L679.3 424.8L679.4 406.8L679.6 424.6L679.8 406.3L679.9 424.5L680.1 406.4L680.3 423.6L680.4 406.4L680.6 423.9L680.8 406.7L680.9 424.8L681.1 406.4L681.3 424.2L681.4 405.0L681.6 424.9L681.8 405.1L681.9 425.1L682.1 406.5L682.3 423.9L682.4 406.7L682.6 424.6L682.8 405.5L682.9 423.9L683.1 405.9L683.3 424.5L683.4 405.3L683.6 423.7L683.8 405.0L683.9 423.9L684.1 405.4L684.3 423.5L684.4 406.3L684.6 425.0L684.8 405.1L684.9 424.5L685.1 406.4L685.3 423.2L685.4 406.2L685.6 423.4L685.8 405.9L685.9 423.7L686.1 406.3L686.3 423.6L686.4 405.2L686.6 423.3L686.8 404.7L686.9 424.0L687.1 405.0L687.3 423.4L687.4 405.5L687.6 424.2L687.8 405.6L687.9 422.8L688.1 404.6L688.3 424.3L688.4 405.6L688.6 422.9L688.8 404.5L688.9 423.9L689.1 406.0L689.3 423.2L689.4 405.9L689.6 424.2L689.8 405.6L689.9 424.5L690.1 404.6L690.3 422.8L690.4 404.7L690.6 423.3L690.8 404.5L690.9 424.1L691.1 405.3L691.3 422.7L691.4 403.9L691.6 423.2L691.8 403.9L691.9 423.7L692.1 404.3L692.3 424.0L692.4 404.5L692.6 423.2L692.8 405.5L692.9 423.6L693.1 404.8L693.3 423.2L693.4 403.7L693.6 422.5L693.8 404.1L693.9 422.3L694.1 404.2L694.3 423.7L694.4 404.9L694.6 423.1L694.8 403.4L694.9 423.2L695.1 404.3L695.3 422.5L695.4 405.2L695.6 422.6L695.8 404.5L695.9 422.3L696.1 404.6L696.3 422.2L696.4 403.9L696.6 423.1L696.8 404.7L696.9 422.3L697.1 404.1L697.3 422.6L697.4 403.2L697.6 422.4L697.8 404.4L697.9 423.4L698.1 404.7L698.3 422.7L698.4 404.3L698.6 423.2L698.8 403.9L698.9 423.0L699.1 404.5L699.3 422.8L699.4 403.7L699.6 422.3L699.8 403.3L699.9 423.0L700.1 404.5L700.3 422.0L700.4 404.0L700.6 421.8L700.8 404.5L700.9 421.9L701.1 404.2L701.3 422.6L701.4 403.7L701.6 421.5L701.8 403.9L701.9 422.1L702.1 403.8L702.3 421.5L702.4 404.2L702.6 421.2L702.8 402.3L702.9 422.5L703.1 404.1L703.3 422.4L703.4 402.2L703.6 422.0L703.8 404.0L703.9 421.9L704.1 403.4L704.3 421.3L704.4 403.1L704.6 420.9L704.8 402.3L704.9 422.0L705.1 402.9L705.3 422.7L705.4 402.8L705.6 421.3L705.8 403.4L705.9 421.0L706.1 403.8L706.3 422.2L706.4 402.2L706.6 421.3L706.8 403.4L706.9 421.8L707.1 402.1L707.3 422.5L707.4 403.3L707.6 422.1L707.8 402.0L707.9 421.9L708.1 402.9L708.3 420.9L708.4 401.9L708.6 421.1L708.8 402.7L708.9 421.5L709.1 402.6L709.3 422.0L709.4 402.8L709.6 420.5L709.8 402.2L709.9 421.5L710.1 401.6L710.3 421.7L710.4 401.3L710.6 422.2L710.8 402.1L710.9 421.2L711.1 402.6L711.3 420.8L711.4 401.8L711.6 420.4L711.8 401.6L711.9 420.6L712.1 401.9L712.3 422.2L712.4 402.5L712.6 420.3L712.8 401.8L712.9 420.5L713.1 401.2L713.3 350.0L713.4 352.0L713.6 350.0L713.8 352.0L713.9 350.0L714.1 401.8L714.3 421.2L714.4 401.4L714.6 420.8L714.8 401.6L714.9 420.8L715.1 401.0L715.3 421.5L715.4 400.4L715.6 420.2L715.8 401.5L715.9 420.7L716.1 401.0L716.3 420.7L716.4 401.8L716.6 420.4L716.8 401.6L716.9 421.3L717.1 400.3L717.3 422.5L717.4 400.7L717.6 423.0L717.8 400.4L717.9 422.3L718.1 401.0L718.3 421.5L718.4 401.3L718.6 422.7L718.8 402.1L718.9 422.9L719.1 400.7L719.3 422.9L719.4 401.6L719.6 422.8L719.8 402.3L719.9 424.3L720.1 403.0L720.3 423.0L720.4 401.8L720.6 423.7" stroke="#0000ff" stroke-width="2.8"/>
<path d="M100.6 194.1L109.5 201.7L119.1 219.2L134.2 249.3L141.2 255.4L146.9 263.4L151.3 273.5L154.9 278.3L162.4 284.3L168.4 287.3L175.2 300.9L177.9 302.4L181.0 306.9L183.5 305.4L186.1 297.4L188.0 312.2L190.8 321.3L193.3 317.0L196.3 325.8L199.0 331.1L202.4 329.2L206.1 335.6L208.4 336.3L210.7 338.6L213.2 337.8L217.4 346.4L221.2 342.4L223.0 326.5L225.3 345.4L226.5 349.1L228.3 348.4L231.0 354.6L234.0 350.8L237.0 357.6L242.0 353.8L246.5 358.5L251.8 363.5L253.5 362.1L255.1 362.5L256.7 362.7L258.1 363.2L259.5 363.3L260.8 363.0L262.1 363.1L263.3 367.7L264.4 361.9L265.6 361.2L266.6 365.6L267.7 369.5L268.7 369.5L269.6 368.4L270.6 361.9L271.5 366.2L272.4 364.3L273.2 366.7L274.0 367.2L274.8 369.4L275.6 367.5L276.4 371.1L277.1 367.2L277.9 366.3L278.6 362.4L279.3 368.1L279.9 362.3L280.6 367.9L281.2 371.3L281.9 367.1L282.5 369.6L283.1 365.2L283.7 363.5L284.3 360.5L284.8 369.9L285.4 372.3L285.9 371.3L286.5 369.0L287.0 364.7L287.5 362.0L288.0 368.7L288.5 365.6L289.0 364.4L289.5 365.6L290.0 362.8L290.5 370.9L290.9 367.3L291.4 375.9L291.8 369.4L292.3 371.4L292.7 366.8L293.1 366.8L293.6 368.1L294.0 364.5L294.4 369.9L294.8 364.8L295.2 369.5L295.6 364.0L296.0 373.0L296.4 372.4L296.7 371.4L297.1 370.6L297.5 371.7L297.8 367.5L298.2 372.6L298.6 373.4L298.9 368.1L299.3 367.0L299.6 375.2L299.9 367.3L300.3 363.3L300.6 368.5L300.9 364.8L301.3 369.0L301.6 372.5L301.9 373.8L302.2 374.6L302.5 367.8L302.8 367.1L303.1 372.6L303.4 369.0L303.7 365.9L304.0 370.2L304.3 373.8L304.6 362.1L304.9 373.9L305.2 372.5L305.4 372.7L305.7 370.0L306.0 371.5L306.3 371.2L306.5 370.6L306.8 365.7L307.1 365.3L307.3 369.8L307.6 367.7L307.9 372.7L308.1 363.6L308.4 361.9L308.6 371.0L308.9 365.8L309.1 369.5L309.4 373.6L309.6 366.5L309.9 363.0L310.1 372.8L310.3 372.8L310.6 367.9L310.8 368.6L311.0 369.8L311.3 365.9L311.5 365.9L311.7 368.6L311.9 365.4L312.2 370.6L312.4 374.8L312.6 368.0L312.8 372.4L313.0 374.1L313.3 368.8L313.5 363.4L313.7 373.0L313.9 368.3L314.1 369.9L314.3 370.3L314.5 370.6L314.7 368.2L314.9 377.2L315.1 370.3L315.3 371.2L315.5 362.2L315.7 370.0L315.9 377.2L316.1 375.8L316.3 365.8L316.5 368.0L316.7 367.4L316.9 371.8L317.1 369.6L317.3 372.0L317.4 370.3L317.6 369.4L317.8 375.9L318.0 362.0L318.2 363.0L318.4 369.1L318.5 372.4L318.7 365.5L318.9 372.4L319.1 368.4L319.2 370.9L319.4 370.9L319.6 367.6L319.8 366.7L319.9 373.8L320.1 364.1L320.3 371.4L320.4 371.5L320.6 372.3L320.8 367.4L320.9 369.8L321.1 368.4L321.3 368.3L321.4 369.2L321.6 368.8L321.8 375.3L321.9 368.2L322.1 371.4L322.3 377.4L322.4 369.9L322.6 368.5L322.8 372.2L322.9 367.1L323.1 371.1L323.3 365.7L323.4 377.4L323.6 373.8L323.8 370.2L323.9 369.2L324.1 369.1L324.3 367.9L324.4 373.2L324.6 364.3L324.8 371.6L324.9 367.9L325.1 367.6L325.3 370.2L325.4 364.2L325.6 368.3L325.8 364.6L325.9 370.5L326.1 374.9L326.3 366.4L326.4 369.0L326.6 377.4L326.8 371.1L326.9 372.5L327.1 370.4L327.3 373.9L327.4 375.2L327.6 369.6L327.8 365.1L327.9 367.6L328.1 372.2L328.3 362.5L328.4 373.4L328.6 367.5L328.8 367.8L328.9 367.0L329.1 370.7L329.3 366.7L329.4 368.9L329.6 373.8L329.8 368.4L329.9 366.7L330.1 367.5L330.3 376.4L330.4 368.9L330.6 364.7L330.8 366.6L330.9 374.1L331.1 371.3L331.3 365.8L331.4 373.1L331.6 370.2L331.8 365.6L331.9 371.2L332.1 364.6L332.3 366.9L332.4 371.5L332.6 372.3L332.8 368.5L332.9 369.0L333.1 368.2L333.3 368.3L333.4 375.6L333.6 369.1L333.8 376.1L333.9 371.1L334.1 371.4L334.3 369.8L334.4 369.0L334.6 367.5L334.8 370.2L334.9 362.2L335.1 364.6L335.3 370.5L335.4 362.2L335.6 364.1L335.8 368.8L335.9 372.1L336.1 371.5L336.3 365.1L336.4 373.6L336.6 366.0L336.8 367.2L336.9 365.0L337.1 366.6L337.3 369.2L337.4 369.6L337.6 370.7L337.8 369.4L337.9 371.4L338.1 369.0L338.3 368.3L338.4 367.6L338.6 367.5L338.8 367.9L338.9 372.6L339.1 367.2L339.3 368.1L339.4 367.2L339.6 377.3L339.8 370.4L339.9 367.8L340.1 369.7L340.3 375.7L340.4 374.1L340.6 362.2L340.8 370.2L340.9 371.4L341.1 367.2L341.3 368.7L341.4 362.2L341.6 367.2L341.8 367.4L341.9 365.0L342.1 377.0L342.3 365.9L342.4 375.7L342.6 370.0L342.8 369.4L342.9 366.7L343.1 364.2L343.3 368.8L343.4 373.7L343.6 366.7L343.8 367.6L343.9 375.3L344.1 373.5L344.3 363.3L344.4 367.1L344.6 367.6L344.8 362.3L344.9 370.2L345.1 368.6L345.3 368.8L345.4 366.8L345.6 369.9L345.8 371.5L345.9 375.0L346.1 374.3L346.3 372.5L346.4 375.2L346.6 371.7L346.8 370.7L346.9 374.3L347.1 375.3L347.3 370.9L347.4 370.6L347.6 375.4L347.8 364.0L347.9 371.6L348.1 372.4L348.3 368.1L348.4 372.0L348.6 369.9L348.8 372.3L348.9 367.5L349.1 367.2L349.3 371.8L349.4 371.5L349.6 377.9L349.8 372.4L349.9 371.2L350.1 373.2L350.3 374.5L350.4 365.6L350.6 368.4L350.8 367.2L350.9 373.9L351.1 371.6L351.3 369.1L351.4 369.7L351.6 375.0L351.8 373.0L351.9 372.4L352.1 368.7L352.3 370.3L352.4 368.8L352.6 374.9L352.8 372.3L352.9 375.0L353.1 370.7L353.3 373.5L353.4 365.6L353.6 367.7L353.8 365.6L353.9 378.0L354.1 371.3L354.3 364.2L354.4 373.6L354.6 377.7L354.8 377.2L354.9 375.6L355.1 372.9L355.3 373.1L355.4 373.8L355.6 367.7L355.8 367.7L355.9 366.5L356.1 370.8L356.3 375.8L356.4 367.4L356.6 375.1L356.8 362.4L356.9 364.9L357.1 371.8L357.3 373.9L357.4 367.6L357.6 365.2L357.8 369.2L357.9 368.7L358.1 369.9L358.3 367.0L358.4 376.0L358.6 378.1L358.8 370.9L358.9 375.2L359.1 373.1L359.3 371.1L359.4 372.9L359.6 370.6L359.8 372.3L359.9 372.9L360.1 372.7L360.3 373.5L360.4 369.2L360.6 367.3L360.8 370.4L360.9 371.3L361.1 364.4L361.3 370.1L361.4 371.7L361.6 377.6L361.8 365.1L361.9 373.5L362.1 371.1L362.3 368.4L362.4 371.2L362.6 366.6L362.8 374.6L362.9 371.5L363.1 369.8L363.3 372.0L363.4 370.2L363.6 364.3L363.8 367.4L363.9 372.8L364.1 368.7L364.3 372.0L364.4 367.4L364.6 378.2L364.8 365.2L364.9 373.5L365.1 369.8L365.3 370.1L365.4 369.6L365.6 378.0L365.8 369.9L365.9 370.7L366.1 369.7L366.3 368.3L366.4 362.4L366.6 364.3L366.8 368.1L366.9 376.4L367.1 371.0L367.3 372.6L367.4 369.9L367.6 369.6L367.8 371.6L367.9 368.1L368.1 365.7L368.3 374.3L368.4 364.6L368.6 366.8L368.8 367.3L368.9 370.4L369.1 367.7L369.3 372.2L369.4 370.3L369.6 377.9L369.8 376.6L369.9 374.0L370.1 365.5L370.3 372.0L370.4 368.1L370.6 378.3L370.8 371.0L370.9 373.0L371.1 366.8L371.3 371.0L371.4 367.1L371.6 371.2L371.8 368.6L371.9 372.9L372.1 367.4L372.3 370.6L372.4 367.8L372.6 372.4L372.8 371.0L372.9 372.9L373.1 370.6L373.3 376.1L373.4 369.0L373.6 373.9L373.8 368.6L373.9 371.9L374.1 371.0L374.3 369.1L374.4 364.3L374.6 372.4L374.8 368.5L374.9 372.4L375.1 366.1L375.3 370.1L375.4 371.4L375.6 374.9L375.8 369.0L375.9 373.3L376.1 365.9L376.3 375.9L376.4 365.4L376.6 367.6L376.8 369.5L376.9 375.1L377.1 366.0L377.3 369.1L377.4 371.5L377.6 370.4L377.8 372.1L377.9 371.3L378.1 366.2L378.3 372.5L378.4 369.0L378.6 368.7L378.8 369.4L378.9 378.4L379.1 367.2L379.3 372.0L379.4 368.8L379.6 374.8L379.8 366.6L379.9 369.6L380.1 367.3L380.3 371.5L380.4 368.4L380.6 370.5L380.8 369.5L380.9 371.4L381.1 369.4L381.3 367.2L381.4 370.8L381.6 373.0L381.8 372.6L381.9 370.1L382.1 366.9L382.3 370.9L382.4 369.8L382.6 370.7L382.8 365.8L382.9 369.1L383.1 367.6L383.3 375.6L383.4 370.7L383.6 372.1L383.8 366.3L383.9 373.4L384.1 369.4L384.3 368.4L384.4 368.9L384.6 371.8L384.8 367.0L384.9 371.3L385.1 369.1L385.3 373.7L385.4 366.1L385.6 371.7L385.8 369.2L385.9 373.3L386.1 364.6L386.3 370.5L386.4 363.4L386.6 374.2L386.8 369.3L386.9 373.9L387.1 369.6L387.3 369.2L387.4 366.6L387.6 372.0L387.8 368.3L387.9 372.8L388.1 365.0L388.3 374.7L388.4 373.0L388.6 373.5L388.8 368.6L388.9 372.6L389.1 365.8L389.3 372.3L389.4 368.6L389.6 376.1L389.8 368.8L389.9 372.9L390.1 368.3L390.3 375.3L390.4 367.3L390.6 374.6L390.8 369.0L390.9 368.9L391.1 367.2L391.3 373.3L391.4 366.5L391.6 374.9L391.8 371.2L391.9 371.2L392.1 371.7L392.3 375.3L392.4 371.3L392.6 369.9L392.8 366.6L392.9 373.5L393.1 372.0L393.3 374.2L393.4 366.9L393.6 373.0L393.8 371.9L393.9 374.3L394.1 368.8L394.3 373.6L394.4 362.7L394.6 375.4L394.8 365.5L394.9 370.7L395.1 369.3L395.3 373.3L395.4 373.2L395.6 378.5L395.8 369.7L395.9 371.7L396.1 369.4L396.3 371.7L396.4 365.7L396.6 373.5L396.8 368.2L396.9 372.8L397.1 371.8L397.3 372.1L397.4 365.6L397.6 375.3L397.8 365.7L397.9 371.8L398.1 370.1L398.3 369.8L398.4 368.0L398.6 372.6L398.8 368.4L398.9 373.3L399.1 367.7L399.3 372.5L399.4 366.2L399.6 371.5L399.8 364.9L399.9 373.7L400.1 371.7L400.3 372.3L400.4 368.0L400.6 372.9L400.8 367.8L400.9 372.4L401.1 369.5L401.3 375.3L401.4 369.4L401.6 374.7L401.8 366.2L401.9 374.0L402.1 368.4L402.3 377.0L402.4 368.5L402.6 376.2L402.8 371.4L402.9 373.1L403.1 367.4L403.3 370.1L403.4 365.7L403.6 370.5L403.8 367.6L403.9 371.6L404.1 364.9L404.3 373.9L404.4 366.2L404.6 373.5L404.8 367.1L404.9 374.6L405.1 369.3L405.3 371.9L405.4 365.9L405.6 371.4L405.8 365.0L405.9 371.9L406.1 370.7L406.3 371.0L406.4 366.4L406.6 377.3L406.8 368.6L406.9 374.5L407.1 369.5L407.3 376.6L407.4 367.1L407.6 371.6L407.8 371.2L407.9 374.8L408.1 371.4L408.3 375.9L408.4 369.2L408.6 372.2L408.8 367.7L408.9 372.7L409.1 367.8L409.3 371.7L409.4 365.1L409.6 372.8L409.8 365.9L409.9 371.7L410.1 366.3L410.3 378.1L410.4 368.7L410.6 370.4L410.8 368.7L410.9 374.6L411.1 369.6L411.3 374.1L411.4 370.6L411.6 373.6L411.8 366.8L411.9 373.5L412.1 367.1L412.3 371.5L412.4 366.1L412.6 371.6L412.8 365.0L412.9 378.7L413.1 364.8L413.3 374.0L413.4 369.2L413.6 373.1L413.8 366.6L413.9 373.9L414.1 365.0L414.3 371.5L414.4 368.1L414.6 376.2L414.8 367.5L414.9 374.2L415.1 370.5L415.3 371.9L415.4 369.2L415.6 376.6L415.8 365.9L415.9 372.6L416.1 365.0L416.3 370.8L416.4 367.5L416.6 377.7L416.8 368.8L416.9 377.3L417.1 367.2L417.3 371.1L417.4 368.8L417.6 373.8L417.8 369.3L417.9 375.4L418.1 369.7L418.3 375.7L418.4 369.0L418.6 371.4L418.8 367.6L418.9 371.7L419.1 367.7L419.3 375.7L419.4 367.4L419.6 373.9L419.8 371.0L419.9 374.2L420.1 370.2L420.3 374.9L420.4 369.9L420.6 374.6L420.8 368.6L420.9 373.6L421.1 367.1L421.3 372.4L421.4 369.6L421.6 377.3L421.8 368.7L421.9 376.2L422.1 365.6L422.3 374.1L422.4 369.7L422.6 371.9L422.8 365.5L422.9 372.1L423.1 367.9L423.3 374.4L423.4 369.9L423.6 374.1L423.8 369.6L423.9 374.5L424.1 367.8L424.3 373.7L424.4 369.3L424.6 373.8L424.8 369.3L424.9 372.3L425.1 369.1L425.3 376.6L425.4 367.8L425.6 376.7L425.8 371.0L425.9 377.4L426.1 367.8L426.3 375.9L426.4 367.4L426.6 375.3L426.8 369.1L426.9 375.7L427.1 369.5L427.3 373.3L427.4 370.7L427.6 373.9L427.8 367.6L427.9 373.4L428.1 382.5L428.3 384.5L428.4 382.5L428.6 384.5L428.8 382.5L428.9 376.0L429.1 366.6L429.3 372.0L429.4 368.9L429.6 375.0L429.8 363.9L429.9 371.7L430.1 367.1L430.3 375.4L430.4 366.0L430.6 373.8L430.8 366.0L430.9 374.4L431.1 365.0L431.3 371.4L431.4 364.7L431.6 374.2L431.8 368.0L431.9 372.3L432.1 368.8L432.3 375.7L432.4 366.7L432.6 372.8L432.8 368.3L432.9 372.8L433.1 369.0L433.3 373.3L433.4 368.4L433.6 378.1L433.8 363.6L433.9 376.1L434.1 367.7L434.3 374.6L434.4 366.1L434.6 377.1L434.8 366.3L434.9 375.3L435.1 369.0L435.3 375.3L435.4 365.7L435.6 376.2L435.8 369.7L435.9 375.8L436.1 368.2L436.3 373.1L436.4 364.3L436.6 375.5L436.8 366.3L436.9 372.9L437.1 365.8L437.3 377.5L437.4 365.1L437.6 376.0L437.8 365.7L437.9 376.3L438.1 367.1L438.3 374.5L438.4 365.8L438.6 376.2L438.8 365.4L438.9 373.9L439.1 364.4L439.3 375.0L439.4 364.6L439.6 372.9L439.8 364.3L439.9 376.3L440.1 368.5L440.3 376.6L440.4 368.6L440.6 373.5L440.8 367.6L440.9 373.7L441.1 367.4L441.3 377.2L441.4 366.5L441.6 375.9L441.8 367.9L441.9 376.3L442.1 365.9L442.3 375.8L442.4 364.7L442.6 376.6L442.8 367.8L442.9 372.9L443.1 366.7L443.3 376.7L443.4 368.0L443.6 375.4L443.8 365.6L443.9 376.4L444.1 370.3L444.3 374.9L444.4 370.1L444.6 373.1L444.8 365.8L444.9 374.7L445.1 366.9L445.3 374.8L445.4 368.0L445.6 373.8L445.8 367.9L445.9 376.8L446.1 366.8L446.3 374.2L446.4 369.3L446.6 374.1L446.8 366.4L446.9 374.8L447.1 366.6L447.3 376.6L447.4 369.0L447.6 375.9L447.8 369.6L447.9 376.7L448.1 368.6L448.3 374.2L448.4 364.4L448.6 374.6L448.8 368.4L448.9 377.2L449.1 366.8L449.3 377.3L449.4 367.6L449.6 375.2L449.8 364.4L449.9 375.2L450.1 363.9L450.3 373.8L450.4 365.6L450.6 373.7L450.8 367.1L450.9 372.4L451.1 368.6L451.3 377.8L451.4 367.4L451.6 376.7L451.8 368.2L451.9 374.6L452.1 369.0L452.3 375.5L452.4 365.3L452.6 375.3L452.8 367.6L452.9 377.7L453.1 365.1L453.3 376.0L453.4 369.1L453.6 375.8L453.8 367.3L453.9 378.0L454.1 367.7L454.3 376.0L454.4 366.6L454.6 374.8L454.8 367.0L454.9 376.1L455.1 364.9L455.3 375.4L455.4 367.6L455.6 378.3L455.8 369.2L455.9 377.0L456.1 366.3L456.3 375.6L456.4 367.3L456.6 376.5L456.8 365.1L456.9 376.4L457.1 365.9L457.3 373.2L457.4 367.7L457.6 373.9L457.8 364.5L457.9 377.4L458.1 368.5L458.3 375.8L458.4 366.7L458.6 373.3L458.8 367.4L458.9 376.6L459.1 366.4L459.3 374.6L459.4 365.8L459.6 374.7L459.8 366.8L459.9 375.2L460.1 364.1L460.3 376.1L460.4 365.6L460.6 376.3L460.8 367.4L460.9 378.2L461.1 366.1L461.3 376.3L461.4 367.8L461.6 374.2L461.8 366.6L461.9 377.1L462.1 365.6L462.3 375.0L462.4 368.4L462.6 375.7L462.8 365.1L462.9 374.2L463.1 365.9L463.3 374.3L463.4 367.6L463.6 373.6L463.8 367.7L463.9 375.2L464.1 364.3L464.3 378.2L464.4 368.1L464.6 375.0L464.8 364.5L464.9 374.5L465.1 367.5L465.3 375.5L465.4 368.5L465.6 374.8L465.8 367.2L465.9 375.3L466.1 364.3L466.3 374.8L466.4 368.0L466.6 377.7L466.8 367.0L466.9 377.3L467.1 366.3L467.3 376.9L467.4 367.5L467.6 374.4L467.8 365.7L467.9 375.7L468.1 366.6L468.3 376.5L468.4 365.7L468.6 375.0L468.8 367.3L468.9 377.9L469.1 366.7L469.3 375.0L469.4 366.3L469.6 374.9L469.8 365.6L469.9 373.9L470.1 365.3L470.3 376.1L470.4 367.3L470.6 378.1L470.8 367.6L470.9 374.9L471.1 368.5L471.3 376.1L471.4 365.7L471.6 376.6L471.8 367.0L471.9 377.2L472.1 368.2L472.3 375.2L472.4 366.1L472.6 378.4L472.8 366.2L472.9 376.7L473.1 365.5L473.3 375.6L473.4 364.5L473.6 376.9L473.8 367.2L473.9 375.6L474.1 365.4L474.3 375.4L474.4 367.8L474.6 377.6L474.8 366.5L474.9 376.1L475.1 366.0L475.3 377.8L475.4 368.0L475.6 375.4L475.8 368.3L475.9 375.7L476.1 366.6L476.3 377.5L476.4 365.9L476.6 376.3L476.8 366.9L476.9 376.3L477.1 367.3L477.3 377.5L477.4 365.4L477.6 377.5L477.8 367.8L477.9 376.7L478.1 365.5L478.3 376.1L478.4 364.8L478.6 377.9L478.8 365.6L478.9 377.4L479.1 366.0L479.3 377.7L479.4 367.8L479.6 376.9L479.8 365.7L479.9 376.5L480.1 367.2L480.3 374.5L480.4 366.1L480.6 377.4L480.8 367.2L480.9 375.2L481.1 367.4L481.3 374.7L481.4 365.8L481.6 378.5L481.8 365.2L481.9 375.7L482.1 365.7L482.3 374.6L482.4 365.0L482.6 375.6L482.8 368.4L482.9 376.7L483.1 367.7L483.3 375.5L483.4 368.0L483.6 376.1L483.8 366.2L483.9 377.4L484.1 368.1L484.3 377.5L484.4 367.7L484.6 375.3L484.8 365.9L484.9 375.7L485.1 366.9L485.3 376.5L485.4 367.3L485.6 377.4L485.8 367.3L485.9 377.6L486.1 365.1L486.3 376.4L486.4 368.1L486.6 377.3L486.8 368.1L486.9 376.3L487.1 366.5L487.3 374.7L487.4 365.8L487.6 377.1L487.8 366.0L487.9 376.0L488.1 366.2L488.3 376.7L488.4 367.1L488.6 377.8L488.8 363.9L488.9 377.5L489.1 364.2L489.3 375.8L489.4 364.0L489.6 374.9L489.8 366.3L489.9 375.2L490.1 366.3L490.3 377.0L490.4 365.5L490.6 376.3L490.8 366.7L490.9 375.4L491.1 366.5L491.3 375.8L491.4 367.1L491.6 377.3L491.8 366.1L491.9 376.3L492.1 367.1L492.3 377.2L492.4 367.1L492.6 375.7L492.8 365.9L492.9 377.2L493.1 364.0L493.3 377.4L493.4 364.2L493.6 378.2L493.8 365.3L493.9 377.3L494.1 367.6L494.3 375.6L494.4 367.8L494.6 377.9L494.8 365.3L494.9 377.0L495.1 366.8L495.3 376.1L495.4 367.1L495.6 377.0L495.8 363.9L495.9 376.0L496.1 367.6L496.3 375.6L496.4 366.4L496.6 378.1L496.8 364.9L496.9 376.5L497.1 367.3L497.3 375.4L497.4 367.1L497.6 377.6L497.8 366.0L497.9 378.7L498.1 364.4L498.3 377.7L498.4 366.0L498.6 377.8L498.8 367.1L498.9 375.4L499.1 365.7L499.3 376.7L499.4 366.8L499.6 375.9L499.8 367.5L499.9 378.2L500.1 365.2L500.3 378.4L500.4 363.9L500.6 376.5L500.8 365.1L500.9 376.4L501.1 364.8L501.3 377.9L501.4 367.0L501.6 375.1L501.8 366.7L501.9 377.0L502.1 366.2L502.3 375.2L502.4 364.7L502.6 377.7L502.8 365.9L502.9 375.3L503.1 364.4L503.3 376.9L503.4 367.1L503.6 376.3L503.8 365.4L503.9 378.2L504.1 365.8L504.3 377.3L504.4 366.6L504.6 376.1L504.8 364.3L504.9 376.5L505.1 366.9L505.3 377.1L505.4 366.8L505.6 376.0L505.8 365.8L505.9 377.1L506.1 365.3L506.3 377.5L506.4 365.9L506.6 375.6L506.8 365.0L506.9 375.6L507.1 365.8L507.3 376.7L507.4 365.1L507.6 377.6L507.8 366.4L507.9 377.4L508.1 365.1L508.3 376.9L508.4 366.7L508.6 378.4L508.8 365.3L508.9 375.7L509.1 366.3L509.3 378.8L509.4 366.4L509.6 376.7L509.8 364.7L509.9 378.0L510.1 365.2L510.3 377.7L510.4 366.9L510.6 375.9L510.8 363.9L510.9 378.0L511.1 366.9L511.3 375.7L511.4 366.2L511.6 378.5L511.8 366.3L511.9 377.6L512.1 364.1L512.3 377.5L512.4 364.1L512.6 376.5L512.8 366.4L512.9 375.7L513.1 364.7L513.3 376.0L513.4 363.8L513.6 377.7L513.8 366.3L513.9 378.1L514.1 366.4L514.3 377.2L514.4 366.5L514.6 378.0L514.8 364.2L514.9 378.5L515.1 366.8L515.3 378.3L515.4 365.3L515.6 378.2L515.8 365.4L515.9 377.5L516.1 365.1L516.3 378.1L516.4 366.5L516.6 376.0L516.8 365.2L516.9 376.7L517.1 365.6L517.3 375.9L517.4 364.7L517.6 375.9L517.8 364.4L517.9 378.2L518.1 365.4L518.3 376.3L518.4 364.9L518.6 376.5L518.8 365.5L518.9 376.2L519.1 363.7L519.3 377.4L519.4 365.7L519.6 376.2L519.8 364.7L519.9 378.3L520.1 364.3L520.3 376.2L520.4 365.6L520.6 376.8L520.8 364.5L520.9 376.4L521.1 365.0L521.3 378.9L521.4 364.5L521.6 376.0L521.8 366.4L521.9 376.3L522.1 364.7L522.3 377.6L522.4 365.2L522.6 377.2L522.8 365.5L522.9 377.7L523.1 364.8L523.3 378.7L523.4 364.6L523.6 378.2L523.8 364.0L523.9 378.4L524.1 364.6L524.3 376.1L524.4 364.7L524.6 378.4L524.8 365.4L524.9 378.5L525.1 366.0L525.3 378.8L525.4 365.3L525.6 378.0L525.8 365.8L525.9 376.9L526.1 365.5L526.3 377.0L526.4 366.2L526.6 377.3L526.8 363.6L526.9 377.8L527.1 363.8L527.3 378.2L527.4 364.1L527.6 379.1L527.8 364.4L527.9 376.9L528.1 365.7L528.3 377.2L528.4 366.4L528.6 376.8L528.8 363.9L528.9 378.7L529.1 365.5L529.3 378.2L529.4 364.3L529.6 378.6L529.8 364.2L529.9 377.6L530.1 366.0L530.3 378.4L530.4 365.5L530.6 377.8L530.8 365.3L530.9 377.6L531.1 363.5L531.3 376.6L531.4 364.9L531.6 377.9L531.8 364.9L531.9 378.9L532.1 365.2L532.3 378.8L532.4 364.5L532.6 379.0L532.8 366.0L532.9 376.8L533.1 365.5L533.3 378.7L533.4 366.2L533.6 376.9L533.8 364.3L533.9 379.1L534.1 365.7L534.3 377.4L534.4 364.4L534.6 378.0L534.8 364.2L534.9 378.2L535.1 365.5L535.3 377.0L535.4 366.1L535.6 378.1L535.8 365.6L535.9 377.0L536.1 363.4L536.3 377.9L536.4 364.6L536.6 378.0L536.8 364.6L536.9 378.1L537.1 365.3L537.3 376.5L537.4 365.9L537.6 376.3L537.8 365.1L537.9 376.7L538.1 365.8L538.3 377.6L538.4 363.3L538.6 378.1L538.8 365.3L538.9 378.3L539.1 365.5L539.3 376.6L539.4 365.2L539.6 377.4L539.8 364.2L539.9 377.5L540.1 364.1L540.3 376.6L540.4 363.4L540.6 377.2L540.8 363.8L540.9 376.4L541.1 363.8L541.3 377.0L541.4 363.7L541.6 378.5L541.8 364.2L541.9 377.1L542.1 365.9L542.3 376.9L542.4 363.5L542.6 376.8L542.8 364.2L542.9 377.9L543.1 364.2L543.3 376.9L543.4 365.5L543.6 376.7L543.8 363.1L543.9 377.4L544.1 364.2L544.3 377.8L544.4 365.3L544.6 376.6L544.8 365.8L544.9 378.7L545.1 365.5L545.3 379.1L545.4 364.9L545.6 378.3L545.8 365.4L545.9 378.5L546.1 365.1L546.3 377.4L546.4 364.5L546.6 376.8L546.8 365.1L546.9 378.5L547.1 365.0L547.3 377.4L547.4 363.8L547.6 377.1L547.8 365.2L547.9 377.1L548.1 364.8L548.3 377.4L548.4 364.1L548.6 377.7L548.8 363.4L548.9 376.6L549.1 364.0L549.3 378.7L549.4 365.1L549.6 376.6L549.8 364.6L549.9 376.8L550.1 364.5L550.3 378.3L550.4 365.4L550.6 376.8L550.8 364.4L550.9 377.0L551.1 365.0L551.3 377.6L551.4 365.3L551.6 376.7L551.8 364.7L551.9 377.7L552.1 363.1L552.3 377.9L552.4 365.4L552.6 377.1L552.8 363.7L552.9 377.9L553.1 363.3L553.3 379.2L553.4 363.3L553.6 376.9L553.8 363.0L553.9 377.9L554.1 364.9L554.3 377.0L554.4 363.3L554.6 377.1L554.8 365.3L554.9 377.3L555.1 363.0L555.3 377.7L555.4 363.7L555.6 376.8L555.8 364.4L555.9 377.4L556.1 364.9L556.3 378.2L556.4 364.5L556.6 376.9L556.8 362.7L556.9 377.8L557.1 365.0L557.3 376.6L557.4 363.8L557.6 377.9L557.8 365.4L557.9 377.8L558.1 363.6L558.3 378.0L558.4 364.8L558.6 377.9L558.8 363.9L558.9 378.2L559.1 365.0L559.3 378.7L559.4 362.8L559.6 378.5L559.8 363.2L559.9 377.6L560.1 363.0L560.3 377.2L560.4 364.7L560.6 378.1L560.8 363.0L560.9 376.9L561.1 364.7L561.3 376.8L561.4 364.2L561.6 377.1L561.8 364.8L561.9 378.5L562.1 363.9L562.3 379.2L562.4 364.3L562.6 378.4L562.8 365.2L562.9 379.2L563.1 364.6L563.3 377.9L563.4 364.0L563.6 379.2L563.8 364.0L563.9 379.4L564.1 363.7L564.3 377.3L564.4 363.1L564.6 377.3L564.8 362.4L564.9 377.9L565.1 364.6L565.3 379.3L565.4 364.4L565.6 377.8L565.8 364.3L565.9 378.4L566.1 365.1L566.3 377.7L566.4 364.7L566.6 378.8L566.8 365.1L566.9 378.2L567.1 364.5L567.3 377.9L567.4 363.8L567.6 378.5L567.8 364.7L567.9 377.4L568.1 364.8L568.3 379.3L568.4 364.7L568.6 377.2L568.8 363.8L568.9 378.2L569.1 362.8L569.3 377.0L569.4 364.4L569.6 377.3L569.8 363.6L569.9 377.9L570.1 364.0L570.3 379.1L570.4 363.4L570.6 379.0L570.8 362.5L570.9 377.5L571.1 362.5L571.3 377.8L571.4 364.8L571.6 379.2L571.8 364.7L571.9 376.9L572.1 364.2L572.3 377.6L572.4 362.4L572.6 379.0L572.8 363.9L572.9 378.1L573.1 362.8L573.3 378.8L573.4 363.4L573.6 378.1L573.8 364.6L573.9 377.5L574.1 363.3L574.3 378.3L574.4 362.9L574.6 379.2L574.8 362.4L574.9 377.4L575.1 364.6L575.3 379.2L575.4 363.5L575.6 377.4L575.8 363.2L575.9 357.8L576.1 359.8L576.3 357.8L576.4 359.8L576.6 357.8L576.8 364.6L576.9 378.7L577.1 363.3L577.3 378.0L577.4 363.2L577.6 378.9L577.8 364.7L577.9 378.1L578.1 363.2L578.3 378.6L578.4 363.2L578.6 377.4L578.8 362.3L578.9 378.8L579.1 364.1L579.3 378.0L579.4 362.2L579.6 377.5L579.8 363.7L579.9 379.5L580.1 362.4L580.3 377.6L580.4 362.9L580.6 377.8L580.8 363.1L580.9 378.8L581.1 364.3L581.3 377.6L581.4 364.1L581.6 377.7L581.8 364.5L581.9 377.4L582.1 363.7L582.3 378.0L582.4 364.4L582.6 378.4L582.8 362.2L582.9 378.4L583.1 363.7L583.3 378.7L583.4 363.6L583.6 377.5L583.8 363.5L583.9 377.1L584.1 363.0L584.3 377.5L584.4 363.7L584.6 379.5L584.8 362.7L584.9 379.1L585.1 363.0L585.3 378.5L585.4 362.9L585.6 379.5L585.8 364.0L585.9 378.9L586.1 363.8L586.3 377.7L586.4 362.5L586.6 378.5L586.8 362.4L586.9 379.2L587.1 363.1L587.3 377.6L587.4 364.4L587.6 378.3L587.8 362.8L587.9 377.8L588.1 364.2L588.3 377.1L588.4 364.0L588.6 378.7L588.8 364.4L588.9 377.7L589.1 363.8L589.3 378.8L589.4 361.8L589.6 377.2L589.8 364.1L589.9 379.5L590.1 361.9L590.3 377.5L590.4 363.6L590.6 378.3L590.8 363.6L590.9 378.1L591.1 363.2L591.3 377.8L591.4 364.1L591.6 377.3L591.8 363.9L591.9 377.4L592.1 362.8L592.3 378.7L592.4 363.6L592.6 379.0L592.8 362.5L592.9 377.9L593.1 363.1L593.3 377.6L593.4 361.9L593.6 378.4L593.8 364.0L593.9 377.5L594.1 362.6L594.3 378.0L594.4 362.5L594.6 377.7L594.8 362.2L594.9 379.0L595.1 363.8L595.3 378.5L595.4 363.6L595.6 378.7L595.8 362.2L595.9 379.0L596.1 363.5L596.3 377.4L596.4 362.5L596.6 378.4L596.8 363.6L596.9 377.6L597.1 362.6L597.3 377.4L597.4 362.5L597.6 377.7L597.8 363.3L597.9 378.1L598.1 362.7L598.3 378.8L598.4 363.8L598.6 378.8L598.8 363.3L598.9 377.8L599.1 362.4L599.3 378.7L599.4 362.4L599.6 379.3L599.8 363.3L599.9 377.9L600.1 362.3L600.3 377.7L600.4 363.4L600.6 377.7L600.8 362.0L600.9 379.1L601.1 362.1L601.3 379.5L601.4 361.9L601.6 377.9L601.8 363.0L601.9 378.8L602.1 363.5L602.3 378.5L602.4 363.4L602.6 377.3L602.8 362.5L602.9 377.5L603.1 361.3L603.3 379.2L603.4 362.6L603.6 377.6L603.8 363.3L603.9 378.3L604.1 362.4L604.3 378.0L604.4 361.9L604.6 378.3L604.8 361.8L604.9 377.4L605.1 363.3L605.3 378.0L605.4 362.4L605.6 377.7L605.8 362.0L605.9 377.7L606.1 362.7L606.3 378.2L606.4 361.8L606.6 378.9L606.8 362.6L606.9 378.1L607.1 361.1L607.3 379.4L607.4 362.0L607.6 377.4L607.8 362.3L607.9 378.5L608.1 362.7L608.3 377.2L608.4 360.9L608.6 379.3L608.8 363.0L608.9 378.2L609.1 361.9L609.3 377.8L609.4 363.1L609.6 378.8L609.8 361.5L609.9 378.1L610.1 363.0L610.3 378.0L610.4 363.0L610.6 379.5L610.8 363.1L610.9 377.8L611.1 361.4L611.3 377.5L611.4 362.9L611.6 377.3L611.8 362.7L611.9 378.3L612.1 361.2L612.3 377.5L612.4 362.7L612.6 378.9L612.8 362.1L612.9 377.9L613.1 362.7L613.3 377.7L613.4 360.6L613.6 377.4L613.8 362.4L613.9 378.8L614.1 360.9L614.3 379.3L614.4 361.9L614.6 379.5L614.8 361.6L614.9 377.8L615.1 361.9L615.3 378.7L615.4 361.3L615.6 377.4L615.8 362.4L615.9 379.5L616.1 362.6L616.3 379.0L616.4 362.1L616.6 377.7L616.8 362.3L616.9 378.2L617.1 360.3L617.3 377.5L617.4 360.8L617.6 377.9L617.8 362.4L617.9 378.8L618.1 362.0L618.3 377.6L618.4 361.8L618.6 379.0L618.8 360.7L618.9 378.4L619.1 362.7L619.3 378.8L619.4 361.4L619.6 379.2L619.8 360.4L619.9 377.9L620.1 360.7L620.3 379.0L620.4 362.0L620.6 377.9L620.8 361.8L620.9 377.9L621.1 361.8L621.3 377.4L621.4 362.1L621.6 379.3L621.8 361.7L621.9 378.5L622.1 360.5L622.3 378.8L622.4 362.0L622.6 379.3L622.8 360.7L622.9 379.6L623.1 360.9L623.3 378.8L623.4 360.6L623.6 377.7L623.8 361.0L623.9 378.0L624.1 360.5L624.3 377.4L624.4 361.2L624.6 377.9L624.8 360.5L624.9 377.9L625.1 360.4L625.3 379.0L625.4 360.3L625.6 377.4L625.8 360.1L625.9 378.7L626.1 360.8L626.3 378.4L626.4 362.1L626.6 378.9L626.8 361.0L626.9 377.9L627.1 361.4L627.3 378.6L627.4 360.4L627.6 378.8L627.8 361.6L627.9 377.6L628.1 361.5L628.3 377.0L628.4 361.3L628.6 376.8L628.8 360.3L628.9 377.2L629.1 361.8L629.3 376.8L629.4 360.4L629.6 377.1L629.8 361.0L629.9 377.5L630.1 360.2L630.3 378.8L630.4 361.2L630.6 377.9L630.8 359.8L630.9 377.5L631.1 359.8L631.3 378.0L631.4 361.1L631.6 378.4L631.8 360.6L631.9 376.7L632.1 360.5L632.3 378.2L632.4 360.6L632.6 377.4L632.8 360.8L632.9 378.3L633.1 360.3L633.3 376.7L633.4 360.9L633.6 377.0L633.8 359.4L633.9 377.7L634.1 361.3L634.3 378.2L634.4 361.5L634.6 377.4L634.8 360.6L634.9 377.6L635.1 360.6L635.3 376.3L635.4 360.4L635.6 377.8L635.8 359.7L635.9 376.7L636.1 360.9L636.3 377.5L636.4 359.7L636.6 376.4L636.8 359.4L636.9 378.2L637.1 360.4L637.3 376.6L637.4 359.8L637.6 377.9L637.8 360.8L637.9 376.4L638.1 360.5L638.3 377.3L638.4 360.8L638.6 376.8L638.8 360.1L638.9 377.0L639.1 360.8L639.3 377.8L639.4 358.8L639.6 376.7L639.8 359.4L639.9 376.0L640.1 359.1L640.3 376.7L640.4 359.4L640.6 377.4L640.8 360.2L640.9 377.5L641.1 360.5L641.3 375.5L641.4 359.9L641.6 377.3L641.8 359.0L641.9 377.5L642.1 359.8L642.3 377.4L642.4 359.7L642.6 375.6L642.8 359.5L642.9 376.9L643.1 359.9L643.3 376.4L643.4 360.2L643.6 375.8L643.8 359.9L643.9 376.2L644.1 359.8L644.3 375.3L644.4 360.6L644.6 375.8L644.8 359.2L644.9 376.6L645.1 360.1L645.3 375.6L645.4 359.6L645.6 375.4L645.8 359.4L645.9 376.9L646.1 360.1L646.3 376.1L646.4 359.1L646.6 376.4L646.8 359.0L646.9 376.2L647.1 359.9L647.3 376.5L647.4 358.4L647.6 374.9L647.8 358.3L647.9 375.6L648.1 360.1L648.3 374.9L648.4 358.7L648.6 376.0L648.8 360.0L648.9 375.5L649.1 359.0L649.3 376.8L649.4 359.5L649.6 376.1L649.8 359.7L649.9 374.9L650.1 359.8L650.3 375.3L650.4 358.9L650.6 375.1L650.8 359.8L650.9 374.9L651.1 359.9L651.3 374.8L651.4 359.3L651.6 375.3L651.8 359.5L651.9 375.3L652.1 358.9L652.3 376.4L652.4 358.7L652.6 376.3L652.8 358.6L652.9 374.7L653.1 358.3L653.3 374.6L653.4 359.0L653.6 374.4L653.8 357.9L653.9 376.3L654.1 358.3L654.3 374.9L654.4 358.2L654.6 374.9L654.8 357.6L654.9 374.9L655.1 358.5L655.3 375.9L655.4 357.6L655.6 374.1L655.8 356.9L655.9 375.5L656.1 357.8L656.3 375.3L656.4 356.4L656.6 374.8L656.8 357.5L656.9 374.6L657.1 357.1L657.3 375.3L657.4 356.6L657.6 376.1L657.8 357.7L657.9 374.7L658.1 356.1L658.3 375.5L658.4 356.6L658.6 375.2L658.8 357.0L658.9 376.0L659.1 356.5L659.3 374.6L659.4 357.1L659.6 374.1L659.8 355.4L659.9 375.5L660.1 357.3L660.3 374.4L660.4 356.2L660.6 374.7L660.8 356.4L660.9 375.7L661.1 356.3L661.3 374.8L661.4 354.8L661.6 375.0L661.8 355.8L661.9 374.3L662.1 355.9L662.3 374.9L662.4 354.9L662.6 374.1L662.8 355.7L662.9 374.4L663.1 355.6L663.3 375.6L663.4 355.2L663.6 374.1L663.8 355.5L663.9 375.3L664.1 355.8L664.3 374.9L664.4 356.0L664.6 373.9L664.8 355.8L664.9 375.2L665.1 355.5L665.3 373.9L665.4 355.6L665.6 373.9L665.8 354.0L665.9 374.9L666.1 353.4L666.3 375.6L666.4 354.2L666.6 375.5L666.8 355.1L666.9 375.5L667.1 354.3L667.3 373.7L667.4 353.5L667.6 375.1L667.8 354.3L667.9 373.3L668.1 353.1L668.3 374.7L668.4 353.7L668.6 375.4L668.8 354.9L668.9 373.1L669.1 354.6L669.3 372.9L669.4 353.3L669.6 374.2L669.8 354.6L669.9 373.2L670.1 354.4L670.3 374.0L670.4 353.3L670.6 375.0L670.8 353.9L670.9 375.0L671.1 353.7L671.3 373.4L671.4 354.0L671.6 373.0L671.8 352.2L671.9 374.9L672.1 353.0L672.3 372.8L672.4 354.0L672.6 372.7L672.8 353.6L672.9 373.9L673.1 354.2L673.3 373.4L673.4 352.8L673.6 372.3L673.8 353.3L673.9 373.9L674.1 353.0L674.3 373.1L674.4 352.1L674.6 373.3L674.8 353.3L674.9 372.8L675.1 351.8L675.3 373.9L675.4 351.9L675.6 373.1L675.8 353.6L675.9 372.2L676.1 353.1L676.3 373.2L676.4 353.8L676.6 373.5L676.8 352.1L676.9 372.8L677.1 353.7L677.3 373.4L677.4 352.8L677.6 373.0L677.8 352.4L677.9 373.1L678.1 352.7L678.3 373.7L678.4 351.3L678.6 373.5L678.8 352.2L678.9 372.0L679.1 352.6L679.3 371.9L679.4 351.3L679.6 373.0L679.8 351.6L679.9 373.0L680.1 350.9L680.3 372.6L680.4 352.5L680.6 372.7L680.8 352.6L680.9 372.3L681.1 352.8L681.3 372.9L681.4 352.1L681.6 371.5L681.8 350.9L681.9 371.1L682.1 350.9L682.3 372.4L682.4 352.6L682.6 372.4L682.8 351.7L682.9 372.7L683.1 351.6L683.3 371.5L683.4 350.7L683.6 370.8L683.8 351.1L683.9 370.8L684.1 352.1L684.3 370.8L684.4 350.7L684.6 371.4L684.8 351.1L684.9 370.9L685.1 351.0L685.3 371.7L685.4 352.3L685.6 371.3L685.8 350.9L685.9 370.7L686.1 351.0L686.3 370.8L686.4 351.6L686.6 372.2L686.8 350.2L686.9 372.4L687.1 351.4L687.3 371.2L687.4 350.5L687.6 371.5L687.8 351.2L687.9 371.8L688.1 351.3L688.3 372.0L688.4 351.1L688.6 370.1L688.8 350.4L688.9 370.1L689.1 350.6L689.3 369.8L689.4 349.6L689.6 370.8L689.8 350.3L689.9 369.9L690.1 350.5L690.3 370.4L690.4 351.2L690.6 371.3L690.8 351.6L690.9 370.5L691.1 351.5L691.3 371.3L691.4 349.7L691.6 369.5L691.8 350.7L691.9 370.3L692.1 350.1L692.3 370.8L692.4 350.8L692.6 371.4L692.8 351.0L692.9 369.6L693.1 349.7L693.3 369.5L693.4 351.0L693.6 370.2L693.8 350.6L693.9 369.5L694.1 349.3L694.3 370.1L694.4 349.6L694.6 369.6L694.8 349.2L694.9 369.5L695.1 349.2L695.3 370.2L695.4 348.9L695.6 370.5L695.8 349.8L695.9 370.0L696.1 349.2L696.3 369.8L696.4 350.7L696.6 370.8L696.8 349.3L696.9 370.2L697.1 349.4L697.3 369.3L697.4 349.9L697.6 370.4L697.8 348.7L697.9 370.7L698.1 350.4L698.3 370.0L698.4 349.6L698.6 369.4L698.8 350.3L698.9 368.9L699.1 349.7L699.3 369.5L699.4 350.0L699.6 369.2L699.8 349.4L699.9 370.0L700.1 349.3L700.3 368.8L700.4 348.6L700.6 369.1L700.8 348.3L700.9 370.5L701.1 350.0L701.3 369.4L701.4 348.2L701.6 369.0L701.8 349.2L701.9 368.9L702.1 350.2L702.3 368.6L702.4 349.9L702.6 368.7L702.8 348.9L702.9 369.2L703.1 348.1L703.3 369.4L703.4 349.3L703.6 370.1L703.8 348.8L703.9 369.0L704.1 348.2L704.3 369.2L704.4 349.2L704.6 369.1L704.8 349.3L704.9 370.0L705.1 349.3L705.3 370.0L705.4 349.7L705.6 367.9L705.8 348.8L705.9 368.3L706.1 348.9L706.3 368.2L706.4 348.2L706.6 369.3L706.8 348.6L706.9 369.9L707.1 347.8L707.3 369.3L707.4 348.6L707.6 368.0L707.8 349.9L707.9 368.9L708.1 347.9L708.3 368.7L708.4 348.9L708.6 368.1L708.8 349.2L708.9 370.0L709.1 348.9L709.3 369.8L709.4 350.0L709.6 368.6L709.8 349.7L709.9 369.8L710.1 349.9L710.3 370.1L710.4 349.6L710.6 370.0L710.8 349.2L710.9 368.9L711.1 348.1L711.3 369.0L711.4 348.8L711.6 368.4L711.8 348.5L711.9 370.4L712.1 350.0L712.3 369.9L712.4 350.0L712.6 369.0L712.8 350.0L712.9 370.2L713.1 348.9L713.3 336.0L713.4 338.0L713.6 336.0L713.8 338.0L713.9 336.0L714.1 350.2L714.3 370.8L714.4 351.1L714.6 371.8L714.8 351.5L714.9 370.5L715.1 351.9L715.3 370.7L715.4 351.4L715.6 372.1L715.8 352.4L715.9 371.7L716.1 351.9L716.3 372.0L716.4 352.4L716.6 372.2L716.8 353.3L716.9 371.6L717.1 352.8L717.3 372.1L717.4 352.4L717.6 372.3L717.8 352.4L717.9 372.5L718.1 354.0L718.3 373.2L718.4 353.7L718.6 373.1L718.8 353.2L718.9 373.1L719.1 353.7L719.3 374.5L719.4 354.3L719.6 374.0L719.8 353.5L719.9 374.4L720.1 355.2L720.3 373.7L720.4 355.6L720.6 374.3" stroke="#008000" stroke-width="2.8"/>
</g>
<path d="M100.5 537.24v-5.5M100.5 59.7v5.5M223.5 537.24v-5.5M223.5 59.7v5.5M346.5 537.24v-5.5M346.5 59.7v5.5M469.5 537.24v-5.5M469.5 59.7v5.5M592.5 537.24v-5.5M592.5 59.7v5.5M715.5 537.24v-5.5M715.5 59.7v5.5M100.0 536.5h5.5M720.0 536.5h-5.5M100.0 377.5h5.5M720.0 377.5h-5.5M100.0 218.5h5.5M720.0 218.5h-5.5M100.0 59.5h5.5M720.0 59.5h-5.5M137.5 537.24v-3M137.5 59.7v3M159.5 537.24v-3M159.5 59.7v3M174.5 537.24v-3M174.5 59.7v3M186.5 537.24v-3M186.5 59.7v3M196.5 537.24v-3M196.5 59.7v3M204.5 537.24v-3M204.5 59.7v3M211.5 537.24v-3M211.5 59.7v3M217.5 537.24v-3M217.5 59.7v3M260.5 537.24v-3M260.5 59.7v3M282.5 537.24v-3M282.5 59.7v3M297.5 537.24v-3M297.5 59.7v3M309.5 537.24v-3M309.5 59.7v3M319.5 537.24v-3M319.5 59.7v3M327.5 537.24v-3M327.5 59.7v3M334.5 537.24v-3M334.5 59.7v3M340.5 537.24v-3M340.5 59.7v3M383.5 537.24v-3M383.5 59.7v3M405.5 537.24v-3M405.5 59.7v3M420.5 537.24v-3M420.5 59.7v3M432.5 537.24v-3M432.5 59.7v3M442.5 537.24v-3M442.5 59.7v3M450.5 537.24v-3M450.5 59.7v3M457.5 537.24v-3M457.5 59.7v3M463.5 537.24v-3M463.5 59.7v3M506.5 537.24v-3M506.5 59.7v3M528.5 537.24v-3M528.5 59.7v3M543.5 537.24v-3M543.5 59.7v3M555.5 537.24v-3M555.5 59.7v3M565.5 537.24v-3M565.5 59.7v3M573.5 537.24v-3M573.5 59.7v3M580.5 537.24v-3M580.5 59.7v3M586.5 537.24v-3M586.5 59.7v3M629.5 537.24v-3M629.5 59.7v3M651.5 537.24v-3M651.5 59.7v3M666.5 537.24v-3M666.5 59.7v3M678.5 537.24v-3M678.5 59.7v3M688.5 537.24v-3M688.5 59.7v3M696.5 537.24v-3M696.5 59.7v3M703.5 537.24v-3M703.5 59.7v3M709.5 537.24v-3M709.5 59.7v3M100.0 489.5h3M720.0 489.5h-3M100.0 461.5h3M720.0 461.5h-3M100.0 441.5h3M720.0 441.5h-3M100.0 426.5h3M720.0 426.5h-3M100.0 413.5h3M720.0 413.5h-3M100.0 403.5h3M720.0 403.5h-3M100.0 393.5h3M720.0 393.5h-3M100.0 385.5h3M720.0 385.5h-3M100.0 330.5h3M720.0 330.5h-3M100.0 302.5h3M720.0 302.5h-3M100.0 282.5h3M720.0 282.5h-3M100.0 267.5h3M720.0 267.5h-3M100.0 254.5h3M720.0 254.5h-3M100.0 244.5h3M720.0 244.5h-3M100.0 234.5h3M720.0 234.5h-3M100.0 226.5h3M720.0 226.5h-3M100.0 171.5h3M720.0 171.5h-3M100.0 143.5h3M720.0 143.5h-3M100.0 123.5h3M720.0 123.5h-3M100.0 108.5h3M720.0 108.5h-3M100.0 95.5h3M720.0 95.5h-3M100.0 84.5h3M720.0 84.5h-3M100.0 75.5h3M720.0 75.5h-3M100.0 67.5h3M720.0 67.5h-3" stroke="#000" stroke-opacity="0.75" stroke-width="1" fill="none" shape-rendering="crispEdges"/>
<rect x="100.5" y="59.5" width="620.0" height="477.5" fill="none" stroke="#000" stroke-width="1.35"/>
<text x="100.5" y="555" font-size="16.67" text-anchor="middle">10</text>
<text x="223.5" y="555" font-size="16.67" text-anchor="middle">100</text>
<text x="346.5" y="555" font-size="16.67" text-anchor="middle">1k</text>
<text x="469.4" y="555" font-size="16.67" text-anchor="middle">10k</text>
<text x="592.4" y="555" font-size="16.67" text-anchor="middle">100k</text>
<text x="715.4" y="555" font-size="16.67" text-anchor="middle">1M</text>
<text x="94.4" y="64.0" font-size="16.67" text-anchor="end">100</text>
<text x="94.4" y="224.0" font-size="16.67" text-anchor="end">10</text>
<text x="95.8" y="383.0" font-size="16.67" text-anchor="end">1</text>
<text x="93.6" y="542.0" font-size="16.67" text-anchor="end">0.1</text>
<text x="409.7" y="578.2" font-size="16.67" text-anchor="middle">FREQUENCY (Hz)</text>
<text transform="translate(50.5 300.2) rotate(-90)" font-size="16.67" text-anchor="middle">CURRENT NOISE DENSITY (nA/√Hz)</text>
<rect x="359.5" y="69.5" width="351" height="64" fill="#fff" stroke="#000" stroke-width="1.3"/>
<path d="M372 85.5H403" stroke="#0000ff" stroke-width="2.8"/>
<path d="M372 114.5H403" stroke="#008000" stroke-width="2.8"/>
<text x="424.2" y="92.7" font-size="20">500mA (25 Ohm, gain L)</text>
<text x="424.2" y="122.0" font-size="20">1000mA (12.5 Ohm, gain L)</text>
</svg>
</body></html>
